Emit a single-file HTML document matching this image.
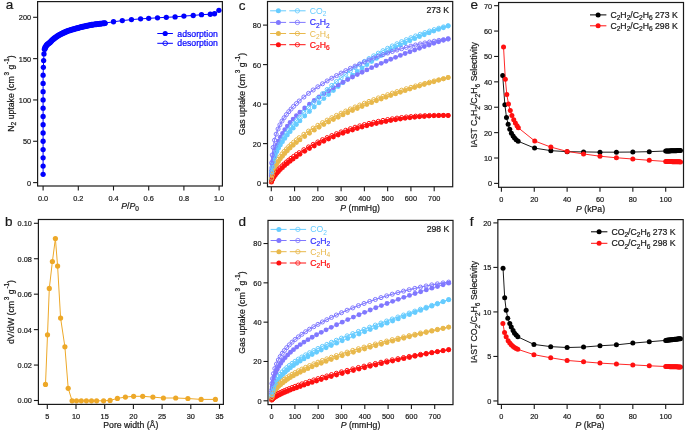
<!DOCTYPE html>
<html><head><meta charset="utf-8"><title>Figure</title>
<style>
html,body{margin:0;padding:0;background:#fff;width:685px;height:432px;overflow:hidden;}
svg{display:block;will-change:transform;font-family:"Liberation Sans", sans-serif;}
</style></head><body>
<svg width="685" height="432" viewBox="0 0 685 432" font-family='"Liberation Sans", sans-serif'>
<path d="M44.68 49.04 L45.39 47.16 L46.53 45.33 L47.68 44.13 L48.82 43.3 L49.96 42.43 L51.11 41.21 L52.25 40.03 L53.4 39.07 L54.54 38.17 L55.68 37.32 L56.83 36.53 L57.97 35.8 L59.12 35.1 L60.26 34.46 L61.4 33.85 L62.55 33.27 L63.69 32.72 L64.84 32.2 L65.98 31.72 L67.12 31.26 L68.27 30.84 L69.41 30.44 L70.56 30.07 L71.7 29.72 L72.84 29.39 L73.99 29.07 L75.13 28.76 L76.28 28.45 L77.42 28.13 L78.56 27.83 L79.71 27.52 L80.85 27.23 L82 26.94 L83.14 26.66 L84.28 26.39 L85.43 26.13 L86.57 25.88 L87.72 25.63 L88.86 25.39 L90 25.16 L91.15 24.95 L92.29 24.75 L93.44 24.58 L94.58 24.42 L95.72 24.27 L96.87 24.12 L98.01 23.99 L99.16 23.86 L100.3 23.72 L101.44 23.58 L102.59 23.44 L103.73 23.29 L104.88 23.12" fill="none" stroke="#0000ff" stroke-width="5.9" stroke-linecap="round" stroke-linejoin="round"/>
<path d="M43.1 174.33 L43.1 166.07 L43.1 157.81 L43.1 149.54 L43.1 141.27 L43.1 133.01 L43.1 124.74 L43.1 116.48 L43.1 108.21 L43.1 99.95 L43.1 91.68 L43.1 83.42 L43.1 75.15 L43.36 67.3 L43.63 60.53 L43.98 53.91 L44.68 49.04 L45.39 47.16 L46.53 45.33 L47.68 44.13 L48.82 43.3 L49.96 42.43 L51.11 41.21 L52.25 40.03 L53.4 39.07 L54.54 38.17 L55.68 37.32 L56.83 36.53 L57.97 35.8 L59.12 35.1 L60.26 34.46 L61.4 33.85 L62.55 33.27 L63.69 32.72 L64.84 32.2 L65.98 31.72 L67.12 31.26 L68.27 30.84 L69.41 30.44 L70.56 30.07 L71.7 29.72 L72.84 29.39 L73.99 29.07 L75.13 28.76 L76.28 28.45 L77.42 28.13 L78.56 27.83 L79.71 27.52 L80.85 27.23 L82 26.94 L83.14 26.66 L84.28 26.39 L85.43 26.13 L86.57 25.88 L87.72 25.63 L88.86 25.39 L90 25.16 L91.15 24.95 L92.29 24.75 L93.44 24.58 L94.58 24.42 L95.72 24.27 L96.87 24.12 L98.01 23.99 L99.16 23.86 L100.3 23.72 L101.44 23.58 L102.59 23.44 L103.73 23.29 L104.88 23.12 L113.5 21.76 L122.3 20.61 L131.45 19.61 L140.6 18.87 L148.7 18.37 L157.5 17.8 L166.3 17.3 L175.1 16.89 L183.9 16.06 L193.23 15.48 L201.5 14.66 L210.3 14.24 L214.52 13.75 L218.92 10.36" fill="none" stroke="#0000ff" stroke-width="1.0" stroke-linejoin="round"/>
<circle cx="43.1" cy="174.33" r="2.65" fill="#0000ff"/>
<circle cx="43.1" cy="166.07" r="2.65" fill="#0000ff"/>
<circle cx="43.1" cy="157.81" r="2.65" fill="#0000ff"/>
<circle cx="43.1" cy="149.54" r="2.65" fill="#0000ff"/>
<circle cx="43.1" cy="141.27" r="2.65" fill="#0000ff"/>
<circle cx="43.1" cy="133.01" r="2.65" fill="#0000ff"/>
<circle cx="43.1" cy="124.74" r="2.65" fill="#0000ff"/>
<circle cx="43.1" cy="116.48" r="2.65" fill="#0000ff"/>
<circle cx="43.1" cy="108.21" r="2.65" fill="#0000ff"/>
<circle cx="43.1" cy="99.95" r="2.65" fill="#0000ff"/>
<circle cx="43.1" cy="91.68" r="2.65" fill="#0000ff"/>
<circle cx="43.1" cy="83.42" r="2.65" fill="#0000ff"/>
<circle cx="43.1" cy="75.15" r="2.65" fill="#0000ff"/>
<circle cx="43.36" cy="67.3" r="2.65" fill="#0000ff"/>
<circle cx="43.63" cy="60.53" r="2.65" fill="#0000ff"/>
<circle cx="43.98" cy="53.91" r="2.65" fill="#0000ff"/>
<circle cx="44.68" cy="49.04" r="2.65" fill="#0000ff"/>
<circle cx="45.39" cy="47.16" r="2.65" fill="#0000ff"/>
<circle cx="46.53" cy="45.33" r="2.65" fill="#0000ff"/>
<circle cx="47.68" cy="44.13" r="2.65" fill="#0000ff"/>
<circle cx="48.82" cy="43.3" r="2.65" fill="#0000ff"/>
<circle cx="49.96" cy="42.43" r="2.65" fill="#0000ff"/>
<circle cx="51.11" cy="41.21" r="2.65" fill="#0000ff"/>
<circle cx="52.25" cy="40.03" r="2.65" fill="#0000ff"/>
<circle cx="53.4" cy="39.07" r="2.65" fill="#0000ff"/>
<circle cx="54.54" cy="38.17" r="2.65" fill="#0000ff"/>
<circle cx="55.68" cy="37.32" r="2.65" fill="#0000ff"/>
<circle cx="56.83" cy="36.53" r="2.65" fill="#0000ff"/>
<circle cx="57.97" cy="35.8" r="2.65" fill="#0000ff"/>
<circle cx="59.12" cy="35.1" r="2.65" fill="#0000ff"/>
<circle cx="60.26" cy="34.46" r="2.65" fill="#0000ff"/>
<circle cx="61.4" cy="33.85" r="2.65" fill="#0000ff"/>
<circle cx="62.55" cy="33.27" r="2.65" fill="#0000ff"/>
<circle cx="63.69" cy="32.72" r="2.65" fill="#0000ff"/>
<circle cx="64.84" cy="32.2" r="2.65" fill="#0000ff"/>
<circle cx="65.98" cy="31.72" r="2.65" fill="#0000ff"/>
<circle cx="67.12" cy="31.26" r="2.65" fill="#0000ff"/>
<circle cx="68.27" cy="30.84" r="2.65" fill="#0000ff"/>
<circle cx="69.41" cy="30.44" r="2.65" fill="#0000ff"/>
<circle cx="70.56" cy="30.07" r="2.65" fill="#0000ff"/>
<circle cx="71.7" cy="29.72" r="2.65" fill="#0000ff"/>
<circle cx="72.84" cy="29.39" r="2.65" fill="#0000ff"/>
<circle cx="73.99" cy="29.07" r="2.65" fill="#0000ff"/>
<circle cx="75.13" cy="28.76" r="2.65" fill="#0000ff"/>
<circle cx="76.28" cy="28.45" r="2.65" fill="#0000ff"/>
<circle cx="77.42" cy="28.13" r="2.65" fill="#0000ff"/>
<circle cx="78.56" cy="27.83" r="2.65" fill="#0000ff"/>
<circle cx="79.71" cy="27.52" r="2.65" fill="#0000ff"/>
<circle cx="80.85" cy="27.23" r="2.65" fill="#0000ff"/>
<circle cx="82" cy="26.94" r="2.65" fill="#0000ff"/>
<circle cx="83.14" cy="26.66" r="2.65" fill="#0000ff"/>
<circle cx="84.28" cy="26.39" r="2.65" fill="#0000ff"/>
<circle cx="85.43" cy="26.13" r="2.65" fill="#0000ff"/>
<circle cx="86.57" cy="25.88" r="2.65" fill="#0000ff"/>
<circle cx="87.72" cy="25.63" r="2.65" fill="#0000ff"/>
<circle cx="88.86" cy="25.39" r="2.65" fill="#0000ff"/>
<circle cx="90" cy="25.16" r="2.65" fill="#0000ff"/>
<circle cx="91.15" cy="24.95" r="2.65" fill="#0000ff"/>
<circle cx="92.29" cy="24.75" r="2.65" fill="#0000ff"/>
<circle cx="93.44" cy="24.58" r="2.65" fill="#0000ff"/>
<circle cx="94.58" cy="24.42" r="2.65" fill="#0000ff"/>
<circle cx="95.72" cy="24.27" r="2.65" fill="#0000ff"/>
<circle cx="96.87" cy="24.12" r="2.65" fill="#0000ff"/>
<circle cx="98.01" cy="23.99" r="2.65" fill="#0000ff"/>
<circle cx="99.16" cy="23.86" r="2.65" fill="#0000ff"/>
<circle cx="100.3" cy="23.72" r="2.65" fill="#0000ff"/>
<circle cx="101.44" cy="23.58" r="2.65" fill="#0000ff"/>
<circle cx="102.59" cy="23.44" r="2.65" fill="#0000ff"/>
<circle cx="103.73" cy="23.29" r="2.65" fill="#0000ff"/>
<circle cx="104.88" cy="23.12" r="2.65" fill="#0000ff"/>
<circle cx="113.5" cy="21.76" r="2.65" fill="#0000ff"/>
<circle cx="122.3" cy="20.61" r="2.65" fill="#0000ff"/>
<circle cx="131.45" cy="19.61" r="2.65" fill="#0000ff"/>
<circle cx="140.6" cy="18.87" r="2.65" fill="#0000ff"/>
<circle cx="148.7" cy="18.37" r="2.65" fill="#0000ff"/>
<circle cx="157.5" cy="17.8" r="2.65" fill="#0000ff"/>
<circle cx="166.3" cy="17.3" r="2.65" fill="#0000ff"/>
<circle cx="175.1" cy="16.89" r="2.65" fill="#0000ff"/>
<circle cx="183.9" cy="16.06" r="2.65" fill="#0000ff"/>
<circle cx="193.23" cy="15.48" r="2.65" fill="#0000ff"/>
<circle cx="201.5" cy="14.66" r="2.65" fill="#0000ff"/>
<circle cx="210.3" cy="14.24" r="2.65" fill="#0000ff"/>
<circle cx="214.52" cy="13.75" r="2.65" fill="#0000ff"/>
<circle cx="218.92" cy="10.36" r="2.65" fill="#0000ff"/>
<rect x="37.6" y="1.6" width="184.8" height="184.4" fill="none" stroke="#1a1a1a" stroke-width="1.2"/>
<line x1="33.1" y1="182.6" x2="37.6" y2="182.6" stroke="#1a1a1a" stroke-width="1.1"/>
<text transform="translate(31.1 185.5) scale(0.92 1)" text-anchor="end" font-size="8.0" fill="#1a1a1a" stroke="#1a1a1a" stroke-width="0.22">0</text>
<line x1="33.1" y1="141.27" x2="37.6" y2="141.27" stroke="#1a1a1a" stroke-width="1.1"/>
<text transform="translate(31.1 144.17) scale(0.92 1)" text-anchor="end" font-size="8.0" fill="#1a1a1a" stroke="#1a1a1a" stroke-width="0.22">50</text>
<line x1="33.1" y1="99.95" x2="37.6" y2="99.95" stroke="#1a1a1a" stroke-width="1.1"/>
<text transform="translate(31.1 102.85) scale(0.92 1)" text-anchor="end" font-size="8.0" fill="#1a1a1a" stroke="#1a1a1a" stroke-width="0.22">100</text>
<line x1="33.1" y1="58.62" x2="37.6" y2="58.62" stroke="#1a1a1a" stroke-width="1.1"/>
<text transform="translate(31.1 61.52) scale(0.92 1)" text-anchor="end" font-size="8.0" fill="#1a1a1a" stroke="#1a1a1a" stroke-width="0.22">150</text>
<line x1="33.1" y1="17.3" x2="37.6" y2="17.3" stroke="#1a1a1a" stroke-width="1.1"/>
<text transform="translate(31.1 20.2) scale(0.92 1)" text-anchor="end" font-size="8.0" fill="#1a1a1a" stroke="#1a1a1a" stroke-width="0.22">200</text>
<line x1="43.1" y1="186" x2="43.1" y2="190.5" stroke="#1a1a1a" stroke-width="1.1"/>
<text transform="translate(43.1 200.6) scale(0.92 1)" text-anchor="middle" font-size="8.0" fill="#1a1a1a" stroke="#1a1a1a" stroke-width="0.22">0.0</text>
<line x1="78.3" y1="186" x2="78.3" y2="190.5" stroke="#1a1a1a" stroke-width="1.1"/>
<text transform="translate(78.3 200.6) scale(0.92 1)" text-anchor="middle" font-size="8.0" fill="#1a1a1a" stroke="#1a1a1a" stroke-width="0.22">0.2</text>
<line x1="113.5" y1="186" x2="113.5" y2="190.5" stroke="#1a1a1a" stroke-width="1.1"/>
<text transform="translate(113.5 200.6) scale(0.92 1)" text-anchor="middle" font-size="8.0" fill="#1a1a1a" stroke="#1a1a1a" stroke-width="0.22">0.4</text>
<line x1="148.7" y1="186" x2="148.7" y2="190.5" stroke="#1a1a1a" stroke-width="1.1"/>
<text transform="translate(148.7 200.6) scale(0.92 1)" text-anchor="middle" font-size="8.0" fill="#1a1a1a" stroke="#1a1a1a" stroke-width="0.22">0.6</text>
<line x1="183.9" y1="186" x2="183.9" y2="190.5" stroke="#1a1a1a" stroke-width="1.1"/>
<text transform="translate(183.9 200.6) scale(0.92 1)" text-anchor="middle" font-size="8.0" fill="#1a1a1a" stroke="#1a1a1a" stroke-width="0.22">0.8</text>
<line x1="219.1" y1="186" x2="219.1" y2="190.5" stroke="#1a1a1a" stroke-width="1.1"/>
<text transform="translate(219.1 200.6) scale(0.92 1)" text-anchor="middle" font-size="8.0" fill="#1a1a1a" stroke="#1a1a1a" stroke-width="0.22">1.0</text>
<line x1="157.3" y1="33.5" x2="172.9" y2="33.5" stroke="#0000ff" stroke-width="1"/>
<circle cx="165.2" cy="33.5" r="2.6" fill="#0000ff"/>
<line x1="157.3" y1="43.3" x2="172.9" y2="43.3" stroke="#0000ff" stroke-width="1"/>
<circle cx="165.2" cy="43.3" r="2.3" fill="none" stroke="#0000ff" stroke-width="0.9"/>
<text x="177.3" y="36.5" font-size="8.7" fill="#0000ff" stroke="#0000ff" stroke-width="0.22">adsorption</text>
<text x="177.3" y="46.3" font-size="8.7" fill="#0000ff" stroke="#0000ff" stroke-width="0.22">desorption</text>
<text x="130" y="209" text-anchor="middle" font-size="8.7" fill="#1a1a1a" stroke="#1a1a1a" stroke-width="0.22"><tspan font-style="italic">P</tspan>/<tspan font-style="italic">P</tspan><tspan font-size="6.5" dy="2">0</tspan></text>
<text transform="translate(13.9 93.5) rotate(-90)" text-anchor="middle" font-size="8.7" fill="#1a1a1a" stroke="#1a1a1a" stroke-width="0.22">N<tspan font-size="6.6" dy="2.2">2</tspan><tspan dy="-2.2"> uptake (cm</tspan><tspan dx="0.8" font-size="6.4" dy="-5.2">3</tspan><tspan dy="5.2"> g</tspan><tspan dx="0.8" font-size="6.4" dy="-5.2">-1</tspan><tspan dy="5.2">)</tspan></text>
<text x="5.8" y="9.4" font-size="13.5" fill="#1a1a1a" stroke="#1a1a1a" stroke-width="0.22">a</text>
<path d="M45.5 384.4 L47.5 334.8 L49.3 288.4 L52.4 261.5 L55.4 238.5 L57.6 266.1 L60.6 318.1 L64.9 346.8 L68.2 388.3 L72.1 400.8 L76.5 400.8 L81.3 400.8 L86.4 400.8 L91.5 400.8 L96.6 400.8 L103.6 400.8 L110.1 400.4 L117.4 398.4 L125.4 397.1 L133.6 396.3 L142.7 396.3 L152.9 397.1 L163.4 398 L175.7 398 L187.9 398.5 L201.1 399.4 L215.4 399.4" fill="none" stroke="#eda828" stroke-width="1.0" stroke-linejoin="round"/>
<circle cx="45.5" cy="384.4" r="2.6" fill="#eda828"/>
<circle cx="47.5" cy="334.8" r="2.6" fill="#eda828"/>
<circle cx="49.3" cy="288.4" r="2.6" fill="#eda828"/>
<circle cx="52.4" cy="261.5" r="2.6" fill="#eda828"/>
<circle cx="55.4" cy="238.5" r="2.6" fill="#eda828"/>
<circle cx="57.6" cy="266.1" r="2.6" fill="#eda828"/>
<circle cx="60.6" cy="318.1" r="2.6" fill="#eda828"/>
<circle cx="64.9" cy="346.8" r="2.6" fill="#eda828"/>
<circle cx="68.2" cy="388.3" r="2.6" fill="#eda828"/>
<circle cx="72.1" cy="400.8" r="2.6" fill="#eda828"/>
<circle cx="76.5" cy="400.8" r="2.6" fill="#eda828"/>
<circle cx="81.3" cy="400.8" r="2.6" fill="#eda828"/>
<circle cx="86.4" cy="400.8" r="2.6" fill="#eda828"/>
<circle cx="91.5" cy="400.8" r="2.6" fill="#eda828"/>
<circle cx="96.6" cy="400.8" r="2.6" fill="#eda828"/>
<circle cx="103.6" cy="400.8" r="2.6" fill="#eda828"/>
<circle cx="110.1" cy="400.4" r="2.6" fill="#eda828"/>
<circle cx="117.4" cy="398.4" r="2.6" fill="#eda828"/>
<circle cx="125.4" cy="397.1" r="2.6" fill="#eda828"/>
<circle cx="133.6" cy="396.3" r="2.6" fill="#eda828"/>
<circle cx="142.7" cy="396.3" r="2.6" fill="#eda828"/>
<circle cx="152.9" cy="397.1" r="2.6" fill="#eda828"/>
<circle cx="163.4" cy="398" r="2.6" fill="#eda828"/>
<circle cx="175.7" cy="398" r="2.6" fill="#eda828"/>
<circle cx="187.9" cy="398.5" r="2.6" fill="#eda828"/>
<circle cx="201.1" cy="399.4" r="2.6" fill="#eda828"/>
<circle cx="215.4" cy="399.4" r="2.6" fill="#eda828"/>
<rect x="38.4" y="219.5" width="185" height="184.9" fill="none" stroke="#1a1a1a" stroke-width="1.2"/>
<line x1="33.9" y1="400.5" x2="38.4" y2="400.5" stroke="#1a1a1a" stroke-width="1.1"/>
<text transform="translate(31.9 403.4) scale(0.92 1)" text-anchor="end" font-size="8.0" fill="#1a1a1a" stroke="#1a1a1a" stroke-width="0.22">0.00</text>
<line x1="33.9" y1="365.06" x2="38.4" y2="365.06" stroke="#1a1a1a" stroke-width="1.1"/>
<text transform="translate(31.9 367.96) scale(0.92 1)" text-anchor="end" font-size="8.0" fill="#1a1a1a" stroke="#1a1a1a" stroke-width="0.22">0.02</text>
<line x1="33.9" y1="329.62" x2="38.4" y2="329.62" stroke="#1a1a1a" stroke-width="1.1"/>
<text transform="translate(31.9 332.52) scale(0.92 1)" text-anchor="end" font-size="8.0" fill="#1a1a1a" stroke="#1a1a1a" stroke-width="0.22">0.04</text>
<line x1="33.9" y1="294.18" x2="38.4" y2="294.18" stroke="#1a1a1a" stroke-width="1.1"/>
<text transform="translate(31.9 297.08) scale(0.92 1)" text-anchor="end" font-size="8.0" fill="#1a1a1a" stroke="#1a1a1a" stroke-width="0.22">0.06</text>
<line x1="33.9" y1="258.74" x2="38.4" y2="258.74" stroke="#1a1a1a" stroke-width="1.1"/>
<text transform="translate(31.9 261.64) scale(0.92 1)" text-anchor="end" font-size="8.0" fill="#1a1a1a" stroke="#1a1a1a" stroke-width="0.22">0.08</text>
<line x1="33.9" y1="223.3" x2="38.4" y2="223.3" stroke="#1a1a1a" stroke-width="1.1"/>
<text transform="translate(31.9 226.2) scale(0.92 1)" text-anchor="end" font-size="8.0" fill="#1a1a1a" stroke="#1a1a1a" stroke-width="0.22">0.10</text>
<line x1="47.3" y1="404.4" x2="47.3" y2="408.9" stroke="#1a1a1a" stroke-width="1.1"/>
<text transform="translate(47.3 418.6) scale(0.92 1)" text-anchor="middle" font-size="8.0" fill="#1a1a1a" stroke="#1a1a1a" stroke-width="0.22">5</text>
<line x1="76" y1="404.4" x2="76" y2="408.9" stroke="#1a1a1a" stroke-width="1.1"/>
<text transform="translate(76 418.6) scale(0.92 1)" text-anchor="middle" font-size="8.0" fill="#1a1a1a" stroke="#1a1a1a" stroke-width="0.22">10</text>
<line x1="104.7" y1="404.4" x2="104.7" y2="408.9" stroke="#1a1a1a" stroke-width="1.1"/>
<text transform="translate(104.7 418.6) scale(0.92 1)" text-anchor="middle" font-size="8.0" fill="#1a1a1a" stroke="#1a1a1a" stroke-width="0.22">15</text>
<line x1="133.4" y1="404.4" x2="133.4" y2="408.9" stroke="#1a1a1a" stroke-width="1.1"/>
<text transform="translate(133.4 418.6) scale(0.92 1)" text-anchor="middle" font-size="8.0" fill="#1a1a1a" stroke="#1a1a1a" stroke-width="0.22">20</text>
<line x1="162.1" y1="404.4" x2="162.1" y2="408.9" stroke="#1a1a1a" stroke-width="1.1"/>
<text transform="translate(162.1 418.6) scale(0.92 1)" text-anchor="middle" font-size="8.0" fill="#1a1a1a" stroke="#1a1a1a" stroke-width="0.22">25</text>
<line x1="190.8" y1="404.4" x2="190.8" y2="408.9" stroke="#1a1a1a" stroke-width="1.1"/>
<text transform="translate(190.8 418.6) scale(0.92 1)" text-anchor="middle" font-size="8.0" fill="#1a1a1a" stroke="#1a1a1a" stroke-width="0.22">30</text>
<line x1="219.5" y1="404.4" x2="219.5" y2="408.9" stroke="#1a1a1a" stroke-width="1.1"/>
<text transform="translate(219.5 418.6) scale(0.92 1)" text-anchor="middle" font-size="8.0" fill="#1a1a1a" stroke="#1a1a1a" stroke-width="0.22">35</text>
<text x="130.8" y="428.2" text-anchor="middle" font-size="8.7" fill="#1a1a1a" stroke="#1a1a1a" stroke-width="0.22">Pore width (Å)</text>
<text transform="translate(13.9 312) rotate(-90)" text-anchor="middle" font-size="8.7" fill="#1a1a1a" stroke="#1a1a1a" stroke-width="0.22">dV/dW (cm<tspan dx="0.8" font-size="6.4" dy="-5.2">3</tspan><tspan dy="5.2"> g</tspan><tspan dx="0.8" font-size="6.4" dy="-5.2">-1</tspan><tspan dy="5.2">)</tspan></text>
<text x="4.9" y="226.1" font-size="13.5" fill="#1a1a1a" stroke="#1a1a1a" stroke-width="0.22">b</text>
<path d="M271.37 182.14 L271.49 181.63 L271.65 181.12 L271.88 180.52 L272.23 179.77 L272.7 178.91 L273.39 177.77 L274.33 176.43 L275.49 174.93 L276.88 173.28 L278.51 171.5 L280.38 169.62 L282.47 167.64 L284.8 165.57 L287.36 163.43 L290.15 161.23 L293.17 158.98 L296.43 156.68 L299.92 154.35 L304.7 151.36 L309.49 148.57 L314.27 145.95 L319.05 143.5 L323.83 141.19 L328.61 139.03 L333.39 136.99 L338.17 135.07 L342.96 133.26 L347.74 131.57 L352.52 129.98 L357.3 128.49 L362.08 127.09 L366.86 125.79 L371.65 124.57 L376.43 123.45 L381.21 122.4 L385.99 121.44 L390.77 120.56 L395.55 119.75 L400.34 119.02 L405.12 118.36 L409.9 117.77 L414.68 117.26 L419.46 116.81 L424.24 116.43 L429.03 116.11 L433.81 115.86 L438.59 115.67 L443.37 115.55 L448.15 115.49" fill="none" stroke="#ff1010" stroke-width="0.9" stroke-linejoin="round"/>
<circle cx="271.37" cy="182.14" r="2.45" fill="#ff1010"/>
<circle cx="271.49" cy="181.63" r="2.45" fill="#ff1010"/>
<circle cx="271.65" cy="181.12" r="2.45" fill="#ff1010"/>
<circle cx="271.88" cy="180.52" r="2.45" fill="#ff1010"/>
<circle cx="272.23" cy="179.77" r="2.45" fill="#ff1010"/>
<circle cx="272.7" cy="178.91" r="2.45" fill="#ff1010"/>
<circle cx="273.39" cy="177.77" r="2.45" fill="#ff1010"/>
<circle cx="274.33" cy="176.43" r="2.45" fill="#ff1010"/>
<circle cx="275.49" cy="174.93" r="2.45" fill="#ff1010"/>
<circle cx="276.88" cy="173.28" r="2.45" fill="#ff1010"/>
<circle cx="278.51" cy="171.5" r="2.45" fill="#ff1010"/>
<circle cx="280.38" cy="169.62" r="2.45" fill="#ff1010"/>
<circle cx="282.47" cy="167.64" r="2.45" fill="#ff1010"/>
<circle cx="284.8" cy="165.57" r="2.45" fill="#ff1010"/>
<circle cx="287.36" cy="163.43" r="2.45" fill="#ff1010"/>
<circle cx="290.15" cy="161.23" r="2.45" fill="#ff1010"/>
<circle cx="293.17" cy="158.98" r="2.45" fill="#ff1010"/>
<circle cx="296.43" cy="156.68" r="2.45" fill="#ff1010"/>
<circle cx="299.92" cy="154.35" r="2.45" fill="#ff1010"/>
<circle cx="304.7" cy="151.36" r="2.45" fill="#ff1010"/>
<circle cx="309.49" cy="148.57" r="2.45" fill="#ff1010"/>
<circle cx="314.27" cy="145.95" r="2.45" fill="#ff1010"/>
<circle cx="319.05" cy="143.5" r="2.45" fill="#ff1010"/>
<circle cx="323.83" cy="141.19" r="2.45" fill="#ff1010"/>
<circle cx="328.61" cy="139.03" r="2.45" fill="#ff1010"/>
<circle cx="333.39" cy="136.99" r="2.45" fill="#ff1010"/>
<circle cx="338.17" cy="135.07" r="2.45" fill="#ff1010"/>
<circle cx="342.96" cy="133.26" r="2.45" fill="#ff1010"/>
<circle cx="347.74" cy="131.57" r="2.45" fill="#ff1010"/>
<circle cx="352.52" cy="129.98" r="2.45" fill="#ff1010"/>
<circle cx="357.3" cy="128.49" r="2.45" fill="#ff1010"/>
<circle cx="362.08" cy="127.09" r="2.45" fill="#ff1010"/>
<circle cx="366.86" cy="125.79" r="2.45" fill="#ff1010"/>
<circle cx="371.65" cy="124.57" r="2.45" fill="#ff1010"/>
<circle cx="376.43" cy="123.45" r="2.45" fill="#ff1010"/>
<circle cx="381.21" cy="122.4" r="2.45" fill="#ff1010"/>
<circle cx="385.99" cy="121.44" r="2.45" fill="#ff1010"/>
<circle cx="390.77" cy="120.56" r="2.45" fill="#ff1010"/>
<circle cx="395.55" cy="119.75" r="2.45" fill="#ff1010"/>
<circle cx="400.34" cy="119.02" r="2.45" fill="#ff1010"/>
<circle cx="405.12" cy="118.36" r="2.45" fill="#ff1010"/>
<circle cx="409.9" cy="117.77" r="2.45" fill="#ff1010"/>
<circle cx="414.68" cy="117.26" r="2.45" fill="#ff1010"/>
<circle cx="419.46" cy="116.81" r="2.45" fill="#ff1010"/>
<circle cx="424.24" cy="116.43" r="2.45" fill="#ff1010"/>
<circle cx="429.03" cy="116.11" r="2.45" fill="#ff1010"/>
<circle cx="433.81" cy="115.86" r="2.45" fill="#ff1010"/>
<circle cx="438.59" cy="115.67" r="2.45" fill="#ff1010"/>
<circle cx="443.37" cy="115.55" r="2.45" fill="#ff1010"/>
<circle cx="448.15" cy="115.49" r="2.45" fill="#ff1010"/>
<path d="M271.37 181.1 L271.49 179.76 L271.65 178.47 L271.88 177.08 L272.23 175.45 L272.7 173.7 L273.39 171.55 L274.33 169.18 L275.49 166.69 L276.88 164.12 L278.51 161.51 L280.38 158.85 L282.47 156.18 L284.8 153.49 L287.36 150.78 L290.15 148.07 L293.17 145.35 L296.43 142.62 L299.92 139.9 L304.7 136.43 L309.49 133.2 L314.27 130.17 L319.05 127.32 L323.83 124.61 L328.61 122.03 L333.39 119.55 L338.17 117.18 L342.96 114.9 L347.74 112.69 L352.52 110.56 L357.3 108.5 L362.08 106.5 L366.86 104.55 L371.65 102.66 L376.43 100.82 L381.21 99.02 L385.99 97.27 L390.77 95.56 L395.55 93.89 L400.34 92.25 L405.12 90.65 L409.9 89.08 L414.68 87.54 L419.46 86.04 L424.24 84.56 L429.03 83.11 L433.81 81.68 L438.59 80.29 L443.37 78.91 L448.15 77.56" fill="none" stroke="#e8b84b" stroke-width="0.9" stroke-linejoin="round"/>
<circle cx="271.37" cy="181.1" r="2.45" fill="#e8b84b"/>
<circle cx="271.49" cy="179.76" r="2.45" fill="#e8b84b"/>
<circle cx="271.65" cy="178.47" r="2.45" fill="#e8b84b"/>
<circle cx="271.88" cy="177.08" r="2.45" fill="#e8b84b"/>
<circle cx="272.23" cy="175.45" r="2.45" fill="#e8b84b"/>
<circle cx="272.7" cy="173.7" r="2.45" fill="#e8b84b"/>
<circle cx="273.39" cy="171.55" r="2.45" fill="#e8b84b"/>
<circle cx="274.33" cy="169.18" r="2.45" fill="#e8b84b"/>
<circle cx="275.49" cy="166.69" r="2.45" fill="#e8b84b"/>
<circle cx="276.88" cy="164.12" r="2.45" fill="#e8b84b"/>
<circle cx="278.51" cy="161.51" r="2.45" fill="#e8b84b"/>
<circle cx="280.38" cy="158.85" r="2.45" fill="#e8b84b"/>
<circle cx="282.47" cy="156.18" r="2.45" fill="#e8b84b"/>
<circle cx="284.8" cy="153.49" r="2.45" fill="#e8b84b"/>
<circle cx="287.36" cy="150.78" r="2.45" fill="#e8b84b"/>
<circle cx="290.15" cy="148.07" r="2.45" fill="#e8b84b"/>
<circle cx="293.17" cy="145.35" r="2.45" fill="#e8b84b"/>
<circle cx="296.43" cy="142.62" r="2.45" fill="#e8b84b"/>
<circle cx="299.92" cy="139.9" r="2.45" fill="#e8b84b"/>
<circle cx="304.7" cy="136.43" r="2.45" fill="#e8b84b"/>
<circle cx="309.49" cy="133.2" r="2.45" fill="#e8b84b"/>
<circle cx="314.27" cy="130.17" r="2.45" fill="#e8b84b"/>
<circle cx="319.05" cy="127.32" r="2.45" fill="#e8b84b"/>
<circle cx="323.83" cy="124.61" r="2.45" fill="#e8b84b"/>
<circle cx="328.61" cy="122.03" r="2.45" fill="#e8b84b"/>
<circle cx="333.39" cy="119.55" r="2.45" fill="#e8b84b"/>
<circle cx="338.17" cy="117.18" r="2.45" fill="#e8b84b"/>
<circle cx="342.96" cy="114.9" r="2.45" fill="#e8b84b"/>
<circle cx="347.74" cy="112.69" r="2.45" fill="#e8b84b"/>
<circle cx="352.52" cy="110.56" r="2.45" fill="#e8b84b"/>
<circle cx="357.3" cy="108.5" r="2.45" fill="#e8b84b"/>
<circle cx="362.08" cy="106.5" r="2.45" fill="#e8b84b"/>
<circle cx="366.86" cy="104.55" r="2.45" fill="#e8b84b"/>
<circle cx="371.65" cy="102.66" r="2.45" fill="#e8b84b"/>
<circle cx="376.43" cy="100.82" r="2.45" fill="#e8b84b"/>
<circle cx="381.21" cy="99.02" r="2.45" fill="#e8b84b"/>
<circle cx="385.99" cy="97.27" r="2.45" fill="#e8b84b"/>
<circle cx="390.77" cy="95.56" r="2.45" fill="#e8b84b"/>
<circle cx="395.55" cy="93.89" r="2.45" fill="#e8b84b"/>
<circle cx="400.34" cy="92.25" r="2.45" fill="#e8b84b"/>
<circle cx="405.12" cy="90.65" r="2.45" fill="#e8b84b"/>
<circle cx="409.9" cy="89.08" r="2.45" fill="#e8b84b"/>
<circle cx="414.68" cy="87.54" r="2.45" fill="#e8b84b"/>
<circle cx="419.46" cy="86.04" r="2.45" fill="#e8b84b"/>
<circle cx="424.24" cy="84.56" r="2.45" fill="#e8b84b"/>
<circle cx="429.03" cy="83.11" r="2.45" fill="#e8b84b"/>
<circle cx="433.81" cy="81.68" r="2.45" fill="#e8b84b"/>
<circle cx="438.59" cy="80.29" r="2.45" fill="#e8b84b"/>
<circle cx="443.37" cy="78.91" r="2.45" fill="#e8b84b"/>
<circle cx="448.15" cy="77.56" r="2.45" fill="#e8b84b"/>
<path d="M271.37 179.23 L271.49 176.44 L271.65 173.9 L271.88 171.28 L272.23 168.36 L272.7 165.39 L273.39 161.96 L274.33 158.43 L275.49 154.94 L276.88 151.54 L278.51 148.22 L280.38 144.96 L282.47 141.71 L284.8 138.42 L287.36 135.06 L290.15 131.64 L293.17 128.13 L296.43 124.55 L299.92 120.88 L304.7 116.09 L309.49 111.5 L314.27 107.07 L319.05 102.77 L323.83 98.59 L328.61 94.49 L333.39 90.48 L338.17 86.52 L342.96 82.63 L347.74 78.82 L352.52 75.11 L357.3 71.51 L362.08 68.02 L366.86 64.67 L371.65 61.46 L376.43 58.39 L381.21 55.47 L385.99 52.7 L390.77 50.07 L395.55 47.58 L400.34 45.2 L405.12 42.92 L409.9 40.75 L414.68 38.67 L419.46 36.67 L424.24 34.75 L429.03 32.89 L433.81 31.11 L438.59 29.38 L443.37 27.7 L448.15 26.07" fill="none" stroke="#66ccff" stroke-width="0.9" stroke-linejoin="round"/>
<circle cx="271.37" cy="179.23" r="2.45" fill="#66ccff"/>
<circle cx="271.49" cy="176.44" r="2.45" fill="#66ccff"/>
<circle cx="271.65" cy="173.9" r="2.45" fill="#66ccff"/>
<circle cx="271.88" cy="171.28" r="2.45" fill="#66ccff"/>
<circle cx="272.23" cy="168.36" r="2.45" fill="#66ccff"/>
<circle cx="272.7" cy="165.39" r="2.45" fill="#66ccff"/>
<circle cx="273.39" cy="161.96" r="2.45" fill="#66ccff"/>
<circle cx="274.33" cy="158.43" r="2.45" fill="#66ccff"/>
<circle cx="275.49" cy="154.94" r="2.45" fill="#66ccff"/>
<circle cx="276.88" cy="151.54" r="2.45" fill="#66ccff"/>
<circle cx="278.51" cy="148.22" r="2.45" fill="#66ccff"/>
<circle cx="280.38" cy="144.96" r="2.45" fill="#66ccff"/>
<circle cx="282.47" cy="141.71" r="2.45" fill="#66ccff"/>
<circle cx="284.8" cy="138.42" r="2.45" fill="#66ccff"/>
<circle cx="287.36" cy="135.06" r="2.45" fill="#66ccff"/>
<circle cx="290.15" cy="131.64" r="2.45" fill="#66ccff"/>
<circle cx="293.17" cy="128.13" r="2.45" fill="#66ccff"/>
<circle cx="296.43" cy="124.55" r="2.45" fill="#66ccff"/>
<circle cx="299.92" cy="120.88" r="2.45" fill="#66ccff"/>
<circle cx="304.7" cy="116.09" r="2.45" fill="#66ccff"/>
<circle cx="309.49" cy="111.5" r="2.45" fill="#66ccff"/>
<circle cx="314.27" cy="107.07" r="2.45" fill="#66ccff"/>
<circle cx="319.05" cy="102.77" r="2.45" fill="#66ccff"/>
<circle cx="323.83" cy="98.59" r="2.45" fill="#66ccff"/>
<circle cx="328.61" cy="94.49" r="2.45" fill="#66ccff"/>
<circle cx="333.39" cy="90.48" r="2.45" fill="#66ccff"/>
<circle cx="338.17" cy="86.52" r="2.45" fill="#66ccff"/>
<circle cx="342.96" cy="82.63" r="2.45" fill="#66ccff"/>
<circle cx="347.74" cy="78.82" r="2.45" fill="#66ccff"/>
<circle cx="352.52" cy="75.11" r="2.45" fill="#66ccff"/>
<circle cx="357.3" cy="71.51" r="2.45" fill="#66ccff"/>
<circle cx="362.08" cy="68.02" r="2.45" fill="#66ccff"/>
<circle cx="366.86" cy="64.67" r="2.45" fill="#66ccff"/>
<circle cx="371.65" cy="61.46" r="2.45" fill="#66ccff"/>
<circle cx="376.43" cy="58.39" r="2.45" fill="#66ccff"/>
<circle cx="381.21" cy="55.47" r="2.45" fill="#66ccff"/>
<circle cx="385.99" cy="52.7" r="2.45" fill="#66ccff"/>
<circle cx="390.77" cy="50.07" r="2.45" fill="#66ccff"/>
<circle cx="395.55" cy="47.58" r="2.45" fill="#66ccff"/>
<circle cx="400.34" cy="45.2" r="2.45" fill="#66ccff"/>
<circle cx="405.12" cy="42.92" r="2.45" fill="#66ccff"/>
<circle cx="409.9" cy="40.75" r="2.45" fill="#66ccff"/>
<circle cx="414.68" cy="38.67" r="2.45" fill="#66ccff"/>
<circle cx="419.46" cy="36.67" r="2.45" fill="#66ccff"/>
<circle cx="424.24" cy="34.75" r="2.45" fill="#66ccff"/>
<circle cx="429.03" cy="32.89" r="2.45" fill="#66ccff"/>
<circle cx="433.81" cy="31.11" r="2.45" fill="#66ccff"/>
<circle cx="438.59" cy="29.38" r="2.45" fill="#66ccff"/>
<circle cx="443.37" cy="27.7" r="2.45" fill="#66ccff"/>
<circle cx="448.15" cy="26.07" r="2.45" fill="#66ccff"/>
<path d="M271.37 175.72 L271.49 172.95 L271.65 170.37 L271.88 167.65 L272.23 164.54 L272.7 161.3 L273.39 157.45 L274.33 153.37 L275.49 149.25 L276.88 145.16 L278.51 141.15 L280.38 137.24 L282.47 133.43 L284.8 129.72 L287.36 126.1 L290.15 122.56 L293.17 119.09 L296.43 115.67 L299.92 112.3 L304.7 108.05 L309.49 104.13 L314.27 100.48 L319.05 97.05 L323.83 93.8 L328.61 90.72 L333.39 87.77 L338.17 84.95 L342.96 82.23 L347.74 79.61 L352.52 77.07 L357.3 74.61 L362.08 72.23 L366.86 69.91 L371.65 67.67 L376.43 65.48 L381.21 63.36 L385.99 61.29 L390.77 59.28 L395.55 57.33 L400.34 55.42 L405.12 53.56 L409.9 51.75 L414.68 49.99 L419.46 48.27 L424.24 46.59 L429.03 44.96 L433.81 43.36 L438.59 41.81 L443.37 40.29 L448.15 38.82" fill="none" stroke="#8078ff" stroke-width="0.9" stroke-linejoin="round"/>
<circle cx="271.37" cy="175.72" r="2.45" fill="#8078ff"/>
<circle cx="271.49" cy="172.95" r="2.45" fill="#8078ff"/>
<circle cx="271.65" cy="170.37" r="2.45" fill="#8078ff"/>
<circle cx="271.88" cy="167.65" r="2.45" fill="#8078ff"/>
<circle cx="272.23" cy="164.54" r="2.45" fill="#8078ff"/>
<circle cx="272.7" cy="161.3" r="2.45" fill="#8078ff"/>
<circle cx="273.39" cy="157.45" r="2.45" fill="#8078ff"/>
<circle cx="274.33" cy="153.37" r="2.45" fill="#8078ff"/>
<circle cx="275.49" cy="149.25" r="2.45" fill="#8078ff"/>
<circle cx="276.88" cy="145.16" r="2.45" fill="#8078ff"/>
<circle cx="278.51" cy="141.15" r="2.45" fill="#8078ff"/>
<circle cx="280.38" cy="137.24" r="2.45" fill="#8078ff"/>
<circle cx="282.47" cy="133.43" r="2.45" fill="#8078ff"/>
<circle cx="284.8" cy="129.72" r="2.45" fill="#8078ff"/>
<circle cx="287.36" cy="126.1" r="2.45" fill="#8078ff"/>
<circle cx="290.15" cy="122.56" r="2.45" fill="#8078ff"/>
<circle cx="293.17" cy="119.09" r="2.45" fill="#8078ff"/>
<circle cx="296.43" cy="115.67" r="2.45" fill="#8078ff"/>
<circle cx="299.92" cy="112.3" r="2.45" fill="#8078ff"/>
<circle cx="304.7" cy="108.05" r="2.45" fill="#8078ff"/>
<circle cx="309.49" cy="104.13" r="2.45" fill="#8078ff"/>
<circle cx="314.27" cy="100.48" r="2.45" fill="#8078ff"/>
<circle cx="319.05" cy="97.05" r="2.45" fill="#8078ff"/>
<circle cx="323.83" cy="93.8" r="2.45" fill="#8078ff"/>
<circle cx="328.61" cy="90.72" r="2.45" fill="#8078ff"/>
<circle cx="333.39" cy="87.77" r="2.45" fill="#8078ff"/>
<circle cx="338.17" cy="84.95" r="2.45" fill="#8078ff"/>
<circle cx="342.96" cy="82.23" r="2.45" fill="#8078ff"/>
<circle cx="347.74" cy="79.61" r="2.45" fill="#8078ff"/>
<circle cx="352.52" cy="77.07" r="2.45" fill="#8078ff"/>
<circle cx="357.3" cy="74.61" r="2.45" fill="#8078ff"/>
<circle cx="362.08" cy="72.23" r="2.45" fill="#8078ff"/>
<circle cx="366.86" cy="69.91" r="2.45" fill="#8078ff"/>
<circle cx="371.65" cy="67.67" r="2.45" fill="#8078ff"/>
<circle cx="376.43" cy="65.48" r="2.45" fill="#8078ff"/>
<circle cx="381.21" cy="63.36" r="2.45" fill="#8078ff"/>
<circle cx="385.99" cy="61.29" r="2.45" fill="#8078ff"/>
<circle cx="390.77" cy="59.28" r="2.45" fill="#8078ff"/>
<circle cx="395.55" cy="57.33" r="2.45" fill="#8078ff"/>
<circle cx="400.34" cy="55.42" r="2.45" fill="#8078ff"/>
<circle cx="405.12" cy="53.56" r="2.45" fill="#8078ff"/>
<circle cx="409.9" cy="51.75" r="2.45" fill="#8078ff"/>
<circle cx="414.68" cy="49.99" r="2.45" fill="#8078ff"/>
<circle cx="419.46" cy="48.27" r="2.45" fill="#8078ff"/>
<circle cx="424.24" cy="46.59" r="2.45" fill="#8078ff"/>
<circle cx="429.03" cy="44.96" r="2.45" fill="#8078ff"/>
<circle cx="433.81" cy="43.36" r="2.45" fill="#8078ff"/>
<circle cx="438.59" cy="41.81" r="2.45" fill="#8078ff"/>
<circle cx="443.37" cy="40.29" r="2.45" fill="#8078ff"/>
<circle cx="448.15" cy="38.82" r="2.45" fill="#8078ff"/>
<path d="M448.15 115.49 L443.5 115.38 L438.84 115.34 L434.19 115.37 L429.54 115.47 L424.88 115.63 L420.23 115.87 L415.57 116.17 L410.92 116.55 L406.27 117 L401.61 117.53 L396.96 118.13 L392.3 118.81 L387.65 119.57 L383 120.41 L378.34 121.33 L373.69 122.33 L369.03 123.42 L364.38 124.6 L359.73 125.87 L355.07 127.23 L350.42 128.69 L345.76 130.25 L341.11 131.91 L336.46 133.68 L331.8 135.57 L327.15 137.57 L322.49 139.7 L317.84 141.97 L313.19 144.39 L308.53 146.96 L303.88 149.7 L299.22 152.64 L296.43 154.51 L293.64 156.47 L291.08 158.35 L288.75 160.15 L286.43 162.03 L284.1 164.01 L282 165.9 L279.91 167.91 L278.05 169.83 L276.19 172.26 L274.56 174.9 L273.16 177.44 L272.23 179.42 L271.65 180.99" fill="none" stroke="#ff1010" stroke-width="0.8" stroke-linejoin="round"/>
<circle cx="448.15" cy="115.49" r="2.05" fill="none" stroke="#ff1010" stroke-width="1.0"/>
<circle cx="443.5" cy="115.38" r="2.05" fill="none" stroke="#ff1010" stroke-width="1.0"/>
<circle cx="438.84" cy="115.34" r="2.05" fill="none" stroke="#ff1010" stroke-width="1.0"/>
<circle cx="434.19" cy="115.37" r="2.05" fill="none" stroke="#ff1010" stroke-width="1.0"/>
<circle cx="429.54" cy="115.47" r="2.05" fill="none" stroke="#ff1010" stroke-width="1.0"/>
<circle cx="424.88" cy="115.63" r="2.05" fill="none" stroke="#ff1010" stroke-width="1.0"/>
<circle cx="420.23" cy="115.87" r="2.05" fill="none" stroke="#ff1010" stroke-width="1.0"/>
<circle cx="415.57" cy="116.17" r="2.05" fill="none" stroke="#ff1010" stroke-width="1.0"/>
<circle cx="410.92" cy="116.55" r="2.05" fill="none" stroke="#ff1010" stroke-width="1.0"/>
<circle cx="406.27" cy="117" r="2.05" fill="none" stroke="#ff1010" stroke-width="1.0"/>
<circle cx="401.61" cy="117.53" r="2.05" fill="none" stroke="#ff1010" stroke-width="1.0"/>
<circle cx="396.96" cy="118.13" r="2.05" fill="none" stroke="#ff1010" stroke-width="1.0"/>
<circle cx="392.3" cy="118.81" r="2.05" fill="none" stroke="#ff1010" stroke-width="1.0"/>
<circle cx="387.65" cy="119.57" r="2.05" fill="none" stroke="#ff1010" stroke-width="1.0"/>
<circle cx="383" cy="120.41" r="2.05" fill="none" stroke="#ff1010" stroke-width="1.0"/>
<circle cx="378.34" cy="121.33" r="2.05" fill="none" stroke="#ff1010" stroke-width="1.0"/>
<circle cx="373.69" cy="122.33" r="2.05" fill="none" stroke="#ff1010" stroke-width="1.0"/>
<circle cx="369.03" cy="123.42" r="2.05" fill="none" stroke="#ff1010" stroke-width="1.0"/>
<circle cx="364.38" cy="124.6" r="2.05" fill="none" stroke="#ff1010" stroke-width="1.0"/>
<circle cx="359.73" cy="125.87" r="2.05" fill="none" stroke="#ff1010" stroke-width="1.0"/>
<circle cx="355.07" cy="127.23" r="2.05" fill="none" stroke="#ff1010" stroke-width="1.0"/>
<circle cx="350.42" cy="128.69" r="2.05" fill="none" stroke="#ff1010" stroke-width="1.0"/>
<circle cx="345.76" cy="130.25" r="2.05" fill="none" stroke="#ff1010" stroke-width="1.0"/>
<circle cx="341.11" cy="131.91" r="2.05" fill="none" stroke="#ff1010" stroke-width="1.0"/>
<circle cx="336.46" cy="133.68" r="2.05" fill="none" stroke="#ff1010" stroke-width="1.0"/>
<circle cx="331.8" cy="135.57" r="2.05" fill="none" stroke="#ff1010" stroke-width="1.0"/>
<circle cx="327.15" cy="137.57" r="2.05" fill="none" stroke="#ff1010" stroke-width="1.0"/>
<circle cx="322.49" cy="139.7" r="2.05" fill="none" stroke="#ff1010" stroke-width="1.0"/>
<circle cx="317.84" cy="141.97" r="2.05" fill="none" stroke="#ff1010" stroke-width="1.0"/>
<circle cx="313.19" cy="144.39" r="2.05" fill="none" stroke="#ff1010" stroke-width="1.0"/>
<circle cx="308.53" cy="146.96" r="2.05" fill="none" stroke="#ff1010" stroke-width="1.0"/>
<circle cx="303.88" cy="149.7" r="2.05" fill="none" stroke="#ff1010" stroke-width="1.0"/>
<circle cx="299.22" cy="152.64" r="2.05" fill="none" stroke="#ff1010" stroke-width="1.0"/>
<circle cx="296.43" cy="154.51" r="2.05" fill="none" stroke="#ff1010" stroke-width="1.0"/>
<circle cx="293.64" cy="156.47" r="2.05" fill="none" stroke="#ff1010" stroke-width="1.0"/>
<circle cx="291.08" cy="158.35" r="2.05" fill="none" stroke="#ff1010" stroke-width="1.0"/>
<circle cx="288.75" cy="160.15" r="2.05" fill="none" stroke="#ff1010" stroke-width="1.0"/>
<circle cx="286.43" cy="162.03" r="2.05" fill="none" stroke="#ff1010" stroke-width="1.0"/>
<circle cx="284.1" cy="164.01" r="2.05" fill="none" stroke="#ff1010" stroke-width="1.0"/>
<circle cx="282" cy="165.9" r="2.05" fill="none" stroke="#ff1010" stroke-width="1.0"/>
<circle cx="279.91" cy="167.91" r="2.05" fill="none" stroke="#ff1010" stroke-width="1.0"/>
<circle cx="278.05" cy="169.83" r="2.05" fill="none" stroke="#ff1010" stroke-width="1.0"/>
<circle cx="276.19" cy="172.26" r="2.05" fill="none" stroke="#ff1010" stroke-width="1.0"/>
<circle cx="274.56" cy="174.9" r="2.05" fill="none" stroke="#ff1010" stroke-width="1.0"/>
<circle cx="273.16" cy="177.44" r="2.05" fill="none" stroke="#ff1010" stroke-width="1.0"/>
<circle cx="272.23" cy="179.42" r="2.05" fill="none" stroke="#ff1010" stroke-width="1.0"/>
<circle cx="271.65" cy="180.99" r="2.05" fill="none" stroke="#ff1010" stroke-width="1.0"/>
<path d="M448.15 115.49 L443.5 115.38 L438.84 115.34 L434.19 115.37 L429.54 115.47 L424.88 115.63 L420.23 115.87 L415.57 116.17 L410.92 116.55 L406.27 117 L401.61 117.53 L396.96 118.13 L392.3 118.81 L387.65 119.57 L383 120.41 L378.34 121.33 L373.69 122.33 L369.03 123.42 L364.38 124.6 L359.73 125.87 L355.07 127.23 L350.42 128.69 L345.76 130.25 L341.11 131.91 L336.46 133.68 L331.8 135.57 L327.15 137.57 L322.49 139.7 L317.84 141.97 L313.19 144.39 L308.53 146.96 L303.88 149.7 L299.22 152.64 L296.43 154.51 L293.64 156.47 L291.08 158.35 L288.75 160.15 L286.43 162.03 L284.1 164.01 L282 165.9 L279.91 167.91 L278.05 169.83 L276.19 172.26 L274.56 174.9 L273.16 177.44 L272.23 179.42 L271.65 180.99" fill="none" stroke="#ff1010" stroke-width="0.8" stroke-linejoin="round"/>
<path d="M448.15 77.56 L443.5 78.66 L438.84 79.8 L434.19 80.97 L429.54 82.17 L424.88 83.41 L420.23 84.69 L415.57 86 L410.92 87.35 L406.27 88.73 L401.61 90.16 L396.96 91.63 L392.3 93.14 L387.65 94.69 L383 96.29 L378.34 97.94 L373.69 99.64 L369.03 101.39 L364.38 103.19 L359.73 105.06 L355.07 106.98 L350.42 108.97 L345.76 111.03 L341.11 113.17 L336.46 115.4 L331.8 117.71 L327.15 120.13 L322.49 122.65 L317.84 125.31 L313.19 128.11 L308.53 131.09 L303.88 134.26 L299.22 137.68 L296.43 139.87 L293.64 142.19 L291.08 144.45 L288.75 146.64 L286.43 148.98 L284.1 151.5 L282 153.99 L279.91 156.72 L278.05 159.46 L276.19 163.04 L274.56 167.1 L273.16 171.33 L272.23 175.01 L271.65 178.3" fill="none" stroke="#e8b84b" stroke-width="0.8" stroke-linejoin="round"/>
<circle cx="448.15" cy="77.56" r="2.05" fill="none" stroke="#e8b84b" stroke-width="1.0"/>
<circle cx="443.5" cy="78.66" r="2.05" fill="none" stroke="#e8b84b" stroke-width="1.0"/>
<circle cx="438.84" cy="79.8" r="2.05" fill="none" stroke="#e8b84b" stroke-width="1.0"/>
<circle cx="434.19" cy="80.97" r="2.05" fill="none" stroke="#e8b84b" stroke-width="1.0"/>
<circle cx="429.54" cy="82.17" r="2.05" fill="none" stroke="#e8b84b" stroke-width="1.0"/>
<circle cx="424.88" cy="83.41" r="2.05" fill="none" stroke="#e8b84b" stroke-width="1.0"/>
<circle cx="420.23" cy="84.69" r="2.05" fill="none" stroke="#e8b84b" stroke-width="1.0"/>
<circle cx="415.57" cy="86" r="2.05" fill="none" stroke="#e8b84b" stroke-width="1.0"/>
<circle cx="410.92" cy="87.35" r="2.05" fill="none" stroke="#e8b84b" stroke-width="1.0"/>
<circle cx="406.27" cy="88.73" r="2.05" fill="none" stroke="#e8b84b" stroke-width="1.0"/>
<circle cx="401.61" cy="90.16" r="2.05" fill="none" stroke="#e8b84b" stroke-width="1.0"/>
<circle cx="396.96" cy="91.63" r="2.05" fill="none" stroke="#e8b84b" stroke-width="1.0"/>
<circle cx="392.3" cy="93.14" r="2.05" fill="none" stroke="#e8b84b" stroke-width="1.0"/>
<circle cx="387.65" cy="94.69" r="2.05" fill="none" stroke="#e8b84b" stroke-width="1.0"/>
<circle cx="383" cy="96.29" r="2.05" fill="none" stroke="#e8b84b" stroke-width="1.0"/>
<circle cx="378.34" cy="97.94" r="2.05" fill="none" stroke="#e8b84b" stroke-width="1.0"/>
<circle cx="373.69" cy="99.64" r="2.05" fill="none" stroke="#e8b84b" stroke-width="1.0"/>
<circle cx="369.03" cy="101.39" r="2.05" fill="none" stroke="#e8b84b" stroke-width="1.0"/>
<circle cx="364.38" cy="103.19" r="2.05" fill="none" stroke="#e8b84b" stroke-width="1.0"/>
<circle cx="359.73" cy="105.06" r="2.05" fill="none" stroke="#e8b84b" stroke-width="1.0"/>
<circle cx="355.07" cy="106.98" r="2.05" fill="none" stroke="#e8b84b" stroke-width="1.0"/>
<circle cx="350.42" cy="108.97" r="2.05" fill="none" stroke="#e8b84b" stroke-width="1.0"/>
<circle cx="345.76" cy="111.03" r="2.05" fill="none" stroke="#e8b84b" stroke-width="1.0"/>
<circle cx="341.11" cy="113.17" r="2.05" fill="none" stroke="#e8b84b" stroke-width="1.0"/>
<circle cx="336.46" cy="115.4" r="2.05" fill="none" stroke="#e8b84b" stroke-width="1.0"/>
<circle cx="331.8" cy="117.71" r="2.05" fill="none" stroke="#e8b84b" stroke-width="1.0"/>
<circle cx="327.15" cy="120.13" r="2.05" fill="none" stroke="#e8b84b" stroke-width="1.0"/>
<circle cx="322.49" cy="122.65" r="2.05" fill="none" stroke="#e8b84b" stroke-width="1.0"/>
<circle cx="317.84" cy="125.31" r="2.05" fill="none" stroke="#e8b84b" stroke-width="1.0"/>
<circle cx="313.19" cy="128.11" r="2.05" fill="none" stroke="#e8b84b" stroke-width="1.0"/>
<circle cx="308.53" cy="131.09" r="2.05" fill="none" stroke="#e8b84b" stroke-width="1.0"/>
<circle cx="303.88" cy="134.26" r="2.05" fill="none" stroke="#e8b84b" stroke-width="1.0"/>
<circle cx="299.22" cy="137.68" r="2.05" fill="none" stroke="#e8b84b" stroke-width="1.0"/>
<circle cx="296.43" cy="139.87" r="2.05" fill="none" stroke="#e8b84b" stroke-width="1.0"/>
<circle cx="293.64" cy="142.19" r="2.05" fill="none" stroke="#e8b84b" stroke-width="1.0"/>
<circle cx="291.08" cy="144.45" r="2.05" fill="none" stroke="#e8b84b" stroke-width="1.0"/>
<circle cx="288.75" cy="146.64" r="2.05" fill="none" stroke="#e8b84b" stroke-width="1.0"/>
<circle cx="286.43" cy="148.98" r="2.05" fill="none" stroke="#e8b84b" stroke-width="1.0"/>
<circle cx="284.1" cy="151.5" r="2.05" fill="none" stroke="#e8b84b" stroke-width="1.0"/>
<circle cx="282" cy="153.99" r="2.05" fill="none" stroke="#e8b84b" stroke-width="1.0"/>
<circle cx="279.91" cy="156.72" r="2.05" fill="none" stroke="#e8b84b" stroke-width="1.0"/>
<circle cx="278.05" cy="159.46" r="2.05" fill="none" stroke="#e8b84b" stroke-width="1.0"/>
<circle cx="276.19" cy="163.04" r="2.05" fill="none" stroke="#e8b84b" stroke-width="1.0"/>
<circle cx="274.56" cy="167.1" r="2.05" fill="none" stroke="#e8b84b" stroke-width="1.0"/>
<circle cx="273.16" cy="171.33" r="2.05" fill="none" stroke="#e8b84b" stroke-width="1.0"/>
<circle cx="272.23" cy="175.01" r="2.05" fill="none" stroke="#e8b84b" stroke-width="1.0"/>
<circle cx="271.65" cy="178.3" r="2.05" fill="none" stroke="#e8b84b" stroke-width="1.0"/>
<path d="M448.15 77.56 L443.5 78.66 L438.84 79.8 L434.19 80.97 L429.54 82.17 L424.88 83.41 L420.23 84.69 L415.57 86 L410.92 87.35 L406.27 88.73 L401.61 90.16 L396.96 91.63 L392.3 93.14 L387.65 94.69 L383 96.29 L378.34 97.94 L373.69 99.64 L369.03 101.39 L364.38 103.19 L359.73 105.06 L355.07 106.98 L350.42 108.97 L345.76 111.03 L341.11 113.17 L336.46 115.4 L331.8 117.71 L327.15 120.13 L322.49 122.65 L317.84 125.31 L313.19 128.11 L308.53 131.09 L303.88 134.26 L299.22 137.68 L296.43 139.87 L293.64 142.19 L291.08 144.45 L288.75 146.64 L286.43 148.98 L284.1 151.5 L282 153.99 L279.91 156.72 L278.05 159.46 L276.19 163.04 L274.56 167.1 L273.16 171.33 L272.23 175.01 L271.65 178.3" fill="none" stroke="#e8b84b" stroke-width="0.8" stroke-linejoin="round"/>
<path d="M448.15 25.71 L443.5 26.93 L438.84 28.22 L434.19 29.6 L429.54 31.06 L424.88 32.61 L420.23 34.24 L415.57 35.96 L410.92 37.77 L406.27 39.67 L401.61 41.67 L396.96 43.77 L392.3 45.97 L387.65 48.27 L383 50.68 L378.34 53.19 L373.69 55.83 L369.03 58.57 L364.38 61.44 L359.73 64.44 L355.07 67.57 L350.42 70.84 L345.76 74.25 L341.11 77.81 L336.46 81.54 L331.8 85.44 L327.15 89.51 L322.49 93.75 L317.84 98.17 L313.19 102.76 L308.53 107.51 L303.88 112.42 L299.22 117.51 L296.43 120.68 L293.64 123.98 L291.08 127.14 L288.75 130.16 L286.43 133.37 L284.1 136.82 L282 140.19 L279.91 143.93 L278.05 147.7 L276.19 152.09 L274.56 156.8 L273.16 162.07 L272.23 167.03 L271.65 171.85" fill="none" stroke="#66ccff" stroke-width="0.8" stroke-linejoin="round"/>
<circle cx="448.15" cy="25.71" r="2.05" fill="none" stroke="#66ccff" stroke-width="1.0"/>
<circle cx="443.5" cy="26.93" r="2.05" fill="none" stroke="#66ccff" stroke-width="1.0"/>
<circle cx="438.84" cy="28.22" r="2.05" fill="none" stroke="#66ccff" stroke-width="1.0"/>
<circle cx="434.19" cy="29.6" r="2.05" fill="none" stroke="#66ccff" stroke-width="1.0"/>
<circle cx="429.54" cy="31.06" r="2.05" fill="none" stroke="#66ccff" stroke-width="1.0"/>
<circle cx="424.88" cy="32.61" r="2.05" fill="none" stroke="#66ccff" stroke-width="1.0"/>
<circle cx="420.23" cy="34.24" r="2.05" fill="none" stroke="#66ccff" stroke-width="1.0"/>
<circle cx="415.57" cy="35.96" r="2.05" fill="none" stroke="#66ccff" stroke-width="1.0"/>
<circle cx="410.92" cy="37.77" r="2.05" fill="none" stroke="#66ccff" stroke-width="1.0"/>
<circle cx="406.27" cy="39.67" r="2.05" fill="none" stroke="#66ccff" stroke-width="1.0"/>
<circle cx="401.61" cy="41.67" r="2.05" fill="none" stroke="#66ccff" stroke-width="1.0"/>
<circle cx="396.96" cy="43.77" r="2.05" fill="none" stroke="#66ccff" stroke-width="1.0"/>
<circle cx="392.3" cy="45.97" r="2.05" fill="none" stroke="#66ccff" stroke-width="1.0"/>
<circle cx="387.65" cy="48.27" r="2.05" fill="none" stroke="#66ccff" stroke-width="1.0"/>
<circle cx="383" cy="50.68" r="2.05" fill="none" stroke="#66ccff" stroke-width="1.0"/>
<circle cx="378.34" cy="53.19" r="2.05" fill="none" stroke="#66ccff" stroke-width="1.0"/>
<circle cx="373.69" cy="55.83" r="2.05" fill="none" stroke="#66ccff" stroke-width="1.0"/>
<circle cx="369.03" cy="58.57" r="2.05" fill="none" stroke="#66ccff" stroke-width="1.0"/>
<circle cx="364.38" cy="61.44" r="2.05" fill="none" stroke="#66ccff" stroke-width="1.0"/>
<circle cx="359.73" cy="64.44" r="2.05" fill="none" stroke="#66ccff" stroke-width="1.0"/>
<circle cx="355.07" cy="67.57" r="2.05" fill="none" stroke="#66ccff" stroke-width="1.0"/>
<circle cx="350.42" cy="70.84" r="2.05" fill="none" stroke="#66ccff" stroke-width="1.0"/>
<circle cx="345.76" cy="74.25" r="2.05" fill="none" stroke="#66ccff" stroke-width="1.0"/>
<circle cx="341.11" cy="77.81" r="2.05" fill="none" stroke="#66ccff" stroke-width="1.0"/>
<circle cx="336.46" cy="81.54" r="2.05" fill="none" stroke="#66ccff" stroke-width="1.0"/>
<circle cx="331.8" cy="85.44" r="2.05" fill="none" stroke="#66ccff" stroke-width="1.0"/>
<circle cx="327.15" cy="89.51" r="2.05" fill="none" stroke="#66ccff" stroke-width="1.0"/>
<circle cx="322.49" cy="93.75" r="2.05" fill="none" stroke="#66ccff" stroke-width="1.0"/>
<circle cx="317.84" cy="98.17" r="2.05" fill="none" stroke="#66ccff" stroke-width="1.0"/>
<circle cx="313.19" cy="102.76" r="2.05" fill="none" stroke="#66ccff" stroke-width="1.0"/>
<circle cx="308.53" cy="107.51" r="2.05" fill="none" stroke="#66ccff" stroke-width="1.0"/>
<circle cx="303.88" cy="112.42" r="2.05" fill="none" stroke="#66ccff" stroke-width="1.0"/>
<circle cx="299.22" cy="117.51" r="2.05" fill="none" stroke="#66ccff" stroke-width="1.0"/>
<circle cx="296.43" cy="120.68" r="2.05" fill="none" stroke="#66ccff" stroke-width="1.0"/>
<circle cx="293.64" cy="123.98" r="2.05" fill="none" stroke="#66ccff" stroke-width="1.0"/>
<circle cx="291.08" cy="127.14" r="2.05" fill="none" stroke="#66ccff" stroke-width="1.0"/>
<circle cx="288.75" cy="130.16" r="2.05" fill="none" stroke="#66ccff" stroke-width="1.0"/>
<circle cx="286.43" cy="133.37" r="2.05" fill="none" stroke="#66ccff" stroke-width="1.0"/>
<circle cx="284.1" cy="136.82" r="2.05" fill="none" stroke="#66ccff" stroke-width="1.0"/>
<circle cx="282" cy="140.19" r="2.05" fill="none" stroke="#66ccff" stroke-width="1.0"/>
<circle cx="279.91" cy="143.93" r="2.05" fill="none" stroke="#66ccff" stroke-width="1.0"/>
<circle cx="278.05" cy="147.7" r="2.05" fill="none" stroke="#66ccff" stroke-width="1.0"/>
<circle cx="276.19" cy="152.09" r="2.05" fill="none" stroke="#66ccff" stroke-width="1.0"/>
<circle cx="274.56" cy="156.8" r="2.05" fill="none" stroke="#66ccff" stroke-width="1.0"/>
<circle cx="273.16" cy="162.07" r="2.05" fill="none" stroke="#66ccff" stroke-width="1.0"/>
<circle cx="272.23" cy="167.03" r="2.05" fill="none" stroke="#66ccff" stroke-width="1.0"/>
<circle cx="271.65" cy="171.85" r="2.05" fill="none" stroke="#66ccff" stroke-width="1.0"/>
<path d="M448.15 25.71 L443.5 26.93 L438.84 28.22 L434.19 29.6 L429.54 31.06 L424.88 32.61 L420.23 34.24 L415.57 35.96 L410.92 37.77 L406.27 39.67 L401.61 41.67 L396.96 43.77 L392.3 45.97 L387.65 48.27 L383 50.68 L378.34 53.19 L373.69 55.83 L369.03 58.57 L364.38 61.44 L359.73 64.44 L355.07 67.57 L350.42 70.84 L345.76 74.25 L341.11 77.81 L336.46 81.54 L331.8 85.44 L327.15 89.51 L322.49 93.75 L317.84 98.17 L313.19 102.76 L308.53 107.51 L303.88 112.42 L299.22 117.51 L296.43 120.68 L293.64 123.98 L291.08 127.14 L288.75 130.16 L286.43 133.37 L284.1 136.82 L282 140.19 L279.91 143.93 L278.05 147.7 L276.19 152.09 L274.56 156.8 L273.16 162.07 L272.23 167.03 L271.65 171.85" fill="none" stroke="#66ccff" stroke-width="0.8" stroke-linejoin="round"/>
<path d="M448.15 39.06 L443.5 39.7 L438.84 40.4 L434.19 41.18 L429.54 42.03 L424.88 42.95 L420.23 43.94 L415.57 45.01 L410.92 46.15 L406.27 47.37 L401.61 48.66 L396.96 50.03 L392.3 51.49 L387.65 53.02 L383 54.64 L378.34 56.33 L373.69 58.12 L369.03 59.98 L364.38 61.94 L359.73 63.98 L355.07 66.12 L350.42 68.34 L345.76 70.66 L341.11 73.08 L336.46 75.59 L331.8 78.2 L327.15 80.93 L322.49 83.78 L317.84 86.78 L313.19 89.97 L308.53 93.36 L303.88 97.02 L299.22 100.99 L296.43 103.57 L293.64 106.33 L291.08 109.04 L288.75 111.7 L286.43 114.58 L284.1 117.78 L282 121.06 L279.91 124.89 L278.05 129 L276.19 134.15 L274.56 140.15 L273.16 147.48 L272.23 154.97 L271.65 162.82" fill="none" stroke="#8078ff" stroke-width="0.8" stroke-linejoin="round"/>
<circle cx="448.15" cy="39.06" r="2.05" fill="none" stroke="#8078ff" stroke-width="1.0"/>
<circle cx="443.5" cy="39.7" r="2.05" fill="none" stroke="#8078ff" stroke-width="1.0"/>
<circle cx="438.84" cy="40.4" r="2.05" fill="none" stroke="#8078ff" stroke-width="1.0"/>
<circle cx="434.19" cy="41.18" r="2.05" fill="none" stroke="#8078ff" stroke-width="1.0"/>
<circle cx="429.54" cy="42.03" r="2.05" fill="none" stroke="#8078ff" stroke-width="1.0"/>
<circle cx="424.88" cy="42.95" r="2.05" fill="none" stroke="#8078ff" stroke-width="1.0"/>
<circle cx="420.23" cy="43.94" r="2.05" fill="none" stroke="#8078ff" stroke-width="1.0"/>
<circle cx="415.57" cy="45.01" r="2.05" fill="none" stroke="#8078ff" stroke-width="1.0"/>
<circle cx="410.92" cy="46.15" r="2.05" fill="none" stroke="#8078ff" stroke-width="1.0"/>
<circle cx="406.27" cy="47.37" r="2.05" fill="none" stroke="#8078ff" stroke-width="1.0"/>
<circle cx="401.61" cy="48.66" r="2.05" fill="none" stroke="#8078ff" stroke-width="1.0"/>
<circle cx="396.96" cy="50.03" r="2.05" fill="none" stroke="#8078ff" stroke-width="1.0"/>
<circle cx="392.3" cy="51.49" r="2.05" fill="none" stroke="#8078ff" stroke-width="1.0"/>
<circle cx="387.65" cy="53.02" r="2.05" fill="none" stroke="#8078ff" stroke-width="1.0"/>
<circle cx="383" cy="54.64" r="2.05" fill="none" stroke="#8078ff" stroke-width="1.0"/>
<circle cx="378.34" cy="56.33" r="2.05" fill="none" stroke="#8078ff" stroke-width="1.0"/>
<circle cx="373.69" cy="58.12" r="2.05" fill="none" stroke="#8078ff" stroke-width="1.0"/>
<circle cx="369.03" cy="59.98" r="2.05" fill="none" stroke="#8078ff" stroke-width="1.0"/>
<circle cx="364.38" cy="61.94" r="2.05" fill="none" stroke="#8078ff" stroke-width="1.0"/>
<circle cx="359.73" cy="63.98" r="2.05" fill="none" stroke="#8078ff" stroke-width="1.0"/>
<circle cx="355.07" cy="66.12" r="2.05" fill="none" stroke="#8078ff" stroke-width="1.0"/>
<circle cx="350.42" cy="68.34" r="2.05" fill="none" stroke="#8078ff" stroke-width="1.0"/>
<circle cx="345.76" cy="70.66" r="2.05" fill="none" stroke="#8078ff" stroke-width="1.0"/>
<circle cx="341.11" cy="73.08" r="2.05" fill="none" stroke="#8078ff" stroke-width="1.0"/>
<circle cx="336.46" cy="75.59" r="2.05" fill="none" stroke="#8078ff" stroke-width="1.0"/>
<circle cx="331.8" cy="78.2" r="2.05" fill="none" stroke="#8078ff" stroke-width="1.0"/>
<circle cx="327.15" cy="80.93" r="2.05" fill="none" stroke="#8078ff" stroke-width="1.0"/>
<circle cx="322.49" cy="83.78" r="2.05" fill="none" stroke="#8078ff" stroke-width="1.0"/>
<circle cx="317.84" cy="86.78" r="2.05" fill="none" stroke="#8078ff" stroke-width="1.0"/>
<circle cx="313.19" cy="89.97" r="2.05" fill="none" stroke="#8078ff" stroke-width="1.0"/>
<circle cx="308.53" cy="93.36" r="2.05" fill="none" stroke="#8078ff" stroke-width="1.0"/>
<circle cx="303.88" cy="97.02" r="2.05" fill="none" stroke="#8078ff" stroke-width="1.0"/>
<circle cx="299.22" cy="100.99" r="2.05" fill="none" stroke="#8078ff" stroke-width="1.0"/>
<circle cx="296.43" cy="103.57" r="2.05" fill="none" stroke="#8078ff" stroke-width="1.0"/>
<circle cx="293.64" cy="106.33" r="2.05" fill="none" stroke="#8078ff" stroke-width="1.0"/>
<circle cx="291.08" cy="109.04" r="2.05" fill="none" stroke="#8078ff" stroke-width="1.0"/>
<circle cx="288.75" cy="111.7" r="2.05" fill="none" stroke="#8078ff" stroke-width="1.0"/>
<circle cx="286.43" cy="114.58" r="2.05" fill="none" stroke="#8078ff" stroke-width="1.0"/>
<circle cx="284.1" cy="117.78" r="2.05" fill="none" stroke="#8078ff" stroke-width="1.0"/>
<circle cx="282" cy="121.06" r="2.05" fill="none" stroke="#8078ff" stroke-width="1.0"/>
<circle cx="279.91" cy="124.89" r="2.05" fill="none" stroke="#8078ff" stroke-width="1.0"/>
<circle cx="278.05" cy="129" r="2.05" fill="none" stroke="#8078ff" stroke-width="1.0"/>
<circle cx="276.19" cy="134.15" r="2.05" fill="none" stroke="#8078ff" stroke-width="1.0"/>
<circle cx="274.56" cy="140.15" r="2.05" fill="none" stroke="#8078ff" stroke-width="1.0"/>
<circle cx="273.16" cy="147.48" r="2.05" fill="none" stroke="#8078ff" stroke-width="1.0"/>
<circle cx="272.23" cy="154.97" r="2.05" fill="none" stroke="#8078ff" stroke-width="1.0"/>
<circle cx="271.65" cy="162.82" r="2.05" fill="none" stroke="#8078ff" stroke-width="1.0"/>
<path d="M448.15 39.06 L443.5 39.7 L438.84 40.4 L434.19 41.18 L429.54 42.03 L424.88 42.95 L420.23 43.94 L415.57 45.01 L410.92 46.15 L406.27 47.37 L401.61 48.66 L396.96 50.03 L392.3 51.49 L387.65 53.02 L383 54.64 L378.34 56.33 L373.69 58.12 L369.03 59.98 L364.38 61.94 L359.73 63.98 L355.07 66.12 L350.42 68.34 L345.76 70.66 L341.11 73.08 L336.46 75.59 L331.8 78.2 L327.15 80.93 L322.49 83.78 L317.84 86.78 L313.19 89.97 L308.53 93.36 L303.88 97.02 L299.22 100.99 L296.43 103.57 L293.64 106.33 L291.08 109.04 L288.75 111.7 L286.43 114.58 L284.1 117.78 L282 121.06 L279.91 124.89 L278.05 129 L276.19 134.15 L274.56 140.15 L273.16 147.48 L272.23 154.97 L271.65 162.82" fill="none" stroke="#8078ff" stroke-width="0.8" stroke-linejoin="round"/>
<rect x="267.5" y="1.5" width="185.2" height="185.25" fill="none" stroke="#1a1a1a" stroke-width="1.2"/>
<line x1="263" y1="183.1" x2="267.5" y2="183.1" stroke="#1a1a1a" stroke-width="1.1"/>
<text transform="translate(261 186) scale(0.92 1)" text-anchor="end" font-size="8.0" fill="#1a1a1a" stroke="#1a1a1a" stroke-width="0.22">0</text>
<line x1="263" y1="143.6" x2="267.5" y2="143.6" stroke="#1a1a1a" stroke-width="1.1"/>
<text transform="translate(261 146.5) scale(0.92 1)" text-anchor="end" font-size="8.0" fill="#1a1a1a" stroke="#1a1a1a" stroke-width="0.22">20</text>
<line x1="263" y1="104.1" x2="267.5" y2="104.1" stroke="#1a1a1a" stroke-width="1.1"/>
<text transform="translate(261 107) scale(0.92 1)" text-anchor="end" font-size="8.0" fill="#1a1a1a" stroke="#1a1a1a" stroke-width="0.22">40</text>
<line x1="263" y1="64.6" x2="267.5" y2="64.6" stroke="#1a1a1a" stroke-width="1.1"/>
<text transform="translate(261 67.5) scale(0.92 1)" text-anchor="end" font-size="8.0" fill="#1a1a1a" stroke="#1a1a1a" stroke-width="0.22">60</text>
<line x1="263" y1="25.1" x2="267.5" y2="25.1" stroke="#1a1a1a" stroke-width="1.1"/>
<text transform="translate(261 28) scale(0.92 1)" text-anchor="end" font-size="8.0" fill="#1a1a1a" stroke="#1a1a1a" stroke-width="0.22">80</text>
<line x1="271.3" y1="186.75" x2="271.3" y2="191.25" stroke="#1a1a1a" stroke-width="1.1"/>
<text transform="translate(271.3 201.4) scale(0.92 1)" text-anchor="middle" font-size="8.0" fill="#1a1a1a" stroke="#1a1a1a" stroke-width="0.22">0</text>
<line x1="294.57" y1="186.75" x2="294.57" y2="191.25" stroke="#1a1a1a" stroke-width="1.1"/>
<text transform="translate(294.57 201.4) scale(0.92 1)" text-anchor="middle" font-size="8.0" fill="#1a1a1a" stroke="#1a1a1a" stroke-width="0.22">100</text>
<line x1="317.84" y1="186.75" x2="317.84" y2="191.25" stroke="#1a1a1a" stroke-width="1.1"/>
<text transform="translate(317.84 201.4) scale(0.92 1)" text-anchor="middle" font-size="8.0" fill="#1a1a1a" stroke="#1a1a1a" stroke-width="0.22">200</text>
<line x1="341.11" y1="186.75" x2="341.11" y2="191.25" stroke="#1a1a1a" stroke-width="1.1"/>
<text transform="translate(341.11 201.4) scale(0.92 1)" text-anchor="middle" font-size="8.0" fill="#1a1a1a" stroke="#1a1a1a" stroke-width="0.22">300</text>
<line x1="364.38" y1="186.75" x2="364.38" y2="191.25" stroke="#1a1a1a" stroke-width="1.1"/>
<text transform="translate(364.38 201.4) scale(0.92 1)" text-anchor="middle" font-size="8.0" fill="#1a1a1a" stroke="#1a1a1a" stroke-width="0.22">400</text>
<line x1="387.65" y1="186.75" x2="387.65" y2="191.25" stroke="#1a1a1a" stroke-width="1.1"/>
<text transform="translate(387.65 201.4) scale(0.92 1)" text-anchor="middle" font-size="8.0" fill="#1a1a1a" stroke="#1a1a1a" stroke-width="0.22">500</text>
<line x1="410.92" y1="186.75" x2="410.92" y2="191.25" stroke="#1a1a1a" stroke-width="1.1"/>
<text transform="translate(410.92 201.4) scale(0.92 1)" text-anchor="middle" font-size="8.0" fill="#1a1a1a" stroke="#1a1a1a" stroke-width="0.22">600</text>
<line x1="434.19" y1="186.75" x2="434.19" y2="191.25" stroke="#1a1a1a" stroke-width="1.1"/>
<text transform="translate(434.19 201.4) scale(0.92 1)" text-anchor="middle" font-size="8.0" fill="#1a1a1a" stroke="#1a1a1a" stroke-width="0.22">700</text>
<line x1="270.1" y1="10.8" x2="286.1" y2="10.8" stroke="#66ccff" stroke-width="1"/>
<circle cx="278.4" cy="10.8" r="2.5" fill="#66ccff"/>
<line x1="289.3" y1="10.8" x2="305.6" y2="10.8" stroke="#66ccff" stroke-width="1"/>
<circle cx="297.4" cy="10.8" r="2.2" fill="none" stroke="#66ccff" stroke-width="0.8"/>
<text x="309.8" y="13.8" font-size="8.7" fill="#66ccff">CO<tspan font-size="6.6" dy="2.2">2</tspan></text>
<line x1="270.1" y1="22.4" x2="286.1" y2="22.4" stroke="#8078ff" stroke-width="1"/>
<circle cx="278.4" cy="22.4" r="2.5" fill="#8078ff"/>
<line x1="289.3" y1="22.4" x2="305.6" y2="22.4" stroke="#8078ff" stroke-width="1"/>
<circle cx="297.4" cy="22.4" r="2.2" fill="none" stroke="#8078ff" stroke-width="0.8"/>
<text x="309.8" y="25.4" font-size="8.7" fill="#3333ff" stroke="#3333ff" stroke-width="0.22">C<tspan font-size="6.6" dy="2.2">2</tspan><tspan dy="-2.2">H</tspan><tspan font-size="6.6" dy="2.2">2</tspan></text>
<line x1="270.1" y1="33.5" x2="286.1" y2="33.5" stroke="#e8b84b" stroke-width="1"/>
<circle cx="278.4" cy="33.5" r="2.5" fill="#e8b84b"/>
<line x1="289.3" y1="33.5" x2="305.6" y2="33.5" stroke="#e8b84b" stroke-width="1"/>
<circle cx="297.4" cy="33.5" r="2.2" fill="none" stroke="#e8b84b" stroke-width="0.8"/>
<text x="309.8" y="36.5" font-size="8.7" fill="#e8b84b">C<tspan font-size="6.6" dy="2.2">2</tspan><tspan dy="-2.2">H</tspan><tspan font-size="6.6" dy="2.2">4</tspan></text>
<line x1="270.1" y1="44.7" x2="286.1" y2="44.7" stroke="#ff1010" stroke-width="1"/>
<circle cx="278.4" cy="44.7" r="2.5" fill="#ff1010"/>
<line x1="289.3" y1="44.7" x2="305.6" y2="44.7" stroke="#ff1010" stroke-width="1"/>
<circle cx="297.4" cy="44.7" r="2.2" fill="none" stroke="#ff1010" stroke-width="0.8"/>
<text x="309.8" y="47.7" font-size="8.7" fill="#ff1010" stroke="#ff1010" stroke-width="0.22">C<tspan font-size="6.6" dy="2.2">2</tspan><tspan dy="-2.2">H</tspan><tspan font-size="6.6" dy="2.2">6</tspan></text>
<text x="449.1" y="13.4" text-anchor="end" font-size="8.7" fill="#1a1a1a" stroke="#1a1a1a" stroke-width="0.22">273 K</text>
<text x="360.1" y="210.6" text-anchor="middle" font-size="8.7" fill="#1a1a1a" stroke="#1a1a1a" stroke-width="0.22"><tspan font-style="italic">P</tspan> (mmHg)</text>
<text transform="translate(245.3 94.12) rotate(-90)" text-anchor="middle" font-size="8.7" fill="#1a1a1a" stroke="#1a1a1a" stroke-width="0.22">Gas uptake (cm<tspan dx="0.8" font-size="6.4" dy="-5.2">3</tspan><tspan dy="5.2"> g</tspan><tspan dx="0.8" font-size="6.4" dy="-5.2">-1</tspan><tspan dy="5.2">)</tspan></text>
<text x="238.8" y="9.7" font-size="13.5" fill="#1a1a1a" stroke="#1a1a1a" stroke-width="0.22">c</text>
<path d="M271.67 400.13 L271.79 399.9 L271.95 399.66 L272.18 399.38 L272.53 399.03 L273 398.63 L273.7 398.1 L274.63 397.48 L275.79 396.78 L277.19 396 L278.82 395.16 L280.69 394.25 L282.78 393.29 L285.11 392.27 L287.68 391.2 L290.47 390.08 L293.5 388.91 L296.76 387.69 L300.26 386.43 L303.99 385.13 L307.95 383.8 L312.14 382.42 L316.57 381.01 L321.23 379.57 L326.12 378.1 L331.25 376.6 L336.61 375.07 L342.2 373.52 L347.8 372 L353.41 370.53 L359.01 369.09 L364.62 367.68 L370.22 366.3 L375.82 364.96 L381.43 363.64 L387.03 362.35 L392.64 361.09 L398.24 359.85 L403.85 358.64 L409.45 357.45 L415.05 356.29 L420.66 355.14 L426.26 354.02 L431.87 352.92 L437.47 351.85 L443.08 350.79 L448.68 349.75" fill="none" stroke="#ff1010" stroke-width="0.9" stroke-linejoin="round"/>
<circle cx="271.67" cy="400.13" r="2.45" fill="#ff1010"/>
<circle cx="271.79" cy="399.9" r="2.45" fill="#ff1010"/>
<circle cx="271.95" cy="399.66" r="2.45" fill="#ff1010"/>
<circle cx="272.18" cy="399.38" r="2.45" fill="#ff1010"/>
<circle cx="272.53" cy="399.03" r="2.45" fill="#ff1010"/>
<circle cx="273" cy="398.63" r="2.45" fill="#ff1010"/>
<circle cx="273.7" cy="398.1" r="2.45" fill="#ff1010"/>
<circle cx="274.63" cy="397.48" r="2.45" fill="#ff1010"/>
<circle cx="275.79" cy="396.78" r="2.45" fill="#ff1010"/>
<circle cx="277.19" cy="396" r="2.45" fill="#ff1010"/>
<circle cx="278.82" cy="395.16" r="2.45" fill="#ff1010"/>
<circle cx="280.69" cy="394.25" r="2.45" fill="#ff1010"/>
<circle cx="282.78" cy="393.29" r="2.45" fill="#ff1010"/>
<circle cx="285.11" cy="392.27" r="2.45" fill="#ff1010"/>
<circle cx="287.68" cy="391.2" r="2.45" fill="#ff1010"/>
<circle cx="290.47" cy="390.08" r="2.45" fill="#ff1010"/>
<circle cx="293.5" cy="388.91" r="2.45" fill="#ff1010"/>
<circle cx="296.76" cy="387.69" r="2.45" fill="#ff1010"/>
<circle cx="300.26" cy="386.43" r="2.45" fill="#ff1010"/>
<circle cx="303.99" cy="385.13" r="2.45" fill="#ff1010"/>
<circle cx="307.95" cy="383.8" r="2.45" fill="#ff1010"/>
<circle cx="312.14" cy="382.42" r="2.45" fill="#ff1010"/>
<circle cx="316.57" cy="381.01" r="2.45" fill="#ff1010"/>
<circle cx="321.23" cy="379.57" r="2.45" fill="#ff1010"/>
<circle cx="326.12" cy="378.1" r="2.45" fill="#ff1010"/>
<circle cx="331.25" cy="376.6" r="2.45" fill="#ff1010"/>
<circle cx="336.61" cy="375.07" r="2.45" fill="#ff1010"/>
<circle cx="342.2" cy="373.52" r="2.45" fill="#ff1010"/>
<circle cx="347.8" cy="372" r="2.45" fill="#ff1010"/>
<circle cx="353.41" cy="370.53" r="2.45" fill="#ff1010"/>
<circle cx="359.01" cy="369.09" r="2.45" fill="#ff1010"/>
<circle cx="364.62" cy="367.68" r="2.45" fill="#ff1010"/>
<circle cx="370.22" cy="366.3" r="2.45" fill="#ff1010"/>
<circle cx="375.82" cy="364.96" r="2.45" fill="#ff1010"/>
<circle cx="381.43" cy="363.64" r="2.45" fill="#ff1010"/>
<circle cx="387.03" cy="362.35" r="2.45" fill="#ff1010"/>
<circle cx="392.64" cy="361.09" r="2.45" fill="#ff1010"/>
<circle cx="398.24" cy="359.85" r="2.45" fill="#ff1010"/>
<circle cx="403.85" cy="358.64" r="2.45" fill="#ff1010"/>
<circle cx="409.45" cy="357.45" r="2.45" fill="#ff1010"/>
<circle cx="415.05" cy="356.29" r="2.45" fill="#ff1010"/>
<circle cx="420.66" cy="355.14" r="2.45" fill="#ff1010"/>
<circle cx="426.26" cy="354.02" r="2.45" fill="#ff1010"/>
<circle cx="431.87" cy="352.92" r="2.45" fill="#ff1010"/>
<circle cx="437.47" cy="351.85" r="2.45" fill="#ff1010"/>
<circle cx="443.08" cy="350.79" r="2.45" fill="#ff1010"/>
<circle cx="448.68" cy="349.75" r="2.45" fill="#ff1010"/>
<path d="M271.67 399.48 L271.79 398.55 L271.95 397.68 L272.18 396.74 L272.53 395.63 L273 394.46 L273.7 393.02 L274.63 391.44 L275.79 389.79 L277.19 388.09 L278.82 386.37 L280.69 384.63 L282.78 382.88 L285.11 381.13 L287.68 379.36 L290.47 377.59 L293.5 375.82 L296.76 374.04 L300.26 372.26 L303.99 370.47 L307.95 368.67 L312.14 366.87 L316.57 365.06 L321.23 363.24 L326.12 361.41 L331.25 359.58 L336.61 357.73 L342.2 355.87 L347.8 354.06 L353.41 352.31 L359.01 350.61 L364.62 348.95 L370.22 347.33 L375.82 345.74 L381.43 344.18 L387.03 342.65 L392.64 341.15 L398.24 339.67 L403.85 338.21 L409.45 336.76 L415.05 335.34 L420.66 333.94 L426.26 332.55 L431.87 331.17 L437.47 329.81 L443.08 328.46 L448.68 327.12" fill="none" stroke="#e8b84b" stroke-width="0.9" stroke-linejoin="round"/>
<circle cx="271.67" cy="399.48" r="2.45" fill="#e8b84b"/>
<circle cx="271.79" cy="398.55" r="2.45" fill="#e8b84b"/>
<circle cx="271.95" cy="397.68" r="2.45" fill="#e8b84b"/>
<circle cx="272.18" cy="396.74" r="2.45" fill="#e8b84b"/>
<circle cx="272.53" cy="395.63" r="2.45" fill="#e8b84b"/>
<circle cx="273" cy="394.46" r="2.45" fill="#e8b84b"/>
<circle cx="273.7" cy="393.02" r="2.45" fill="#e8b84b"/>
<circle cx="274.63" cy="391.44" r="2.45" fill="#e8b84b"/>
<circle cx="275.79" cy="389.79" r="2.45" fill="#e8b84b"/>
<circle cx="277.19" cy="388.09" r="2.45" fill="#e8b84b"/>
<circle cx="278.82" cy="386.37" r="2.45" fill="#e8b84b"/>
<circle cx="280.69" cy="384.63" r="2.45" fill="#e8b84b"/>
<circle cx="282.78" cy="382.88" r="2.45" fill="#e8b84b"/>
<circle cx="285.11" cy="381.13" r="2.45" fill="#e8b84b"/>
<circle cx="287.68" cy="379.36" r="2.45" fill="#e8b84b"/>
<circle cx="290.47" cy="377.59" r="2.45" fill="#e8b84b"/>
<circle cx="293.5" cy="375.82" r="2.45" fill="#e8b84b"/>
<circle cx="296.76" cy="374.04" r="2.45" fill="#e8b84b"/>
<circle cx="300.26" cy="372.26" r="2.45" fill="#e8b84b"/>
<circle cx="303.99" cy="370.47" r="2.45" fill="#e8b84b"/>
<circle cx="307.95" cy="368.67" r="2.45" fill="#e8b84b"/>
<circle cx="312.14" cy="366.87" r="2.45" fill="#e8b84b"/>
<circle cx="316.57" cy="365.06" r="2.45" fill="#e8b84b"/>
<circle cx="321.23" cy="363.24" r="2.45" fill="#e8b84b"/>
<circle cx="326.12" cy="361.41" r="2.45" fill="#e8b84b"/>
<circle cx="331.25" cy="359.58" r="2.45" fill="#e8b84b"/>
<circle cx="336.61" cy="357.73" r="2.45" fill="#e8b84b"/>
<circle cx="342.2" cy="355.87" r="2.45" fill="#e8b84b"/>
<circle cx="347.8" cy="354.06" r="2.45" fill="#e8b84b"/>
<circle cx="353.41" cy="352.31" r="2.45" fill="#e8b84b"/>
<circle cx="359.01" cy="350.61" r="2.45" fill="#e8b84b"/>
<circle cx="364.62" cy="348.95" r="2.45" fill="#e8b84b"/>
<circle cx="370.22" cy="347.33" r="2.45" fill="#e8b84b"/>
<circle cx="375.82" cy="345.74" r="2.45" fill="#e8b84b"/>
<circle cx="381.43" cy="344.18" r="2.45" fill="#e8b84b"/>
<circle cx="387.03" cy="342.65" r="2.45" fill="#e8b84b"/>
<circle cx="392.64" cy="341.15" r="2.45" fill="#e8b84b"/>
<circle cx="398.24" cy="339.67" r="2.45" fill="#e8b84b"/>
<circle cx="403.85" cy="338.21" r="2.45" fill="#e8b84b"/>
<circle cx="409.45" cy="336.76" r="2.45" fill="#e8b84b"/>
<circle cx="415.05" cy="335.34" r="2.45" fill="#e8b84b"/>
<circle cx="420.66" cy="333.94" r="2.45" fill="#e8b84b"/>
<circle cx="426.26" cy="332.55" r="2.45" fill="#e8b84b"/>
<circle cx="431.87" cy="331.17" r="2.45" fill="#e8b84b"/>
<circle cx="437.47" cy="329.81" r="2.45" fill="#e8b84b"/>
<circle cx="443.08" cy="328.46" r="2.45" fill="#e8b84b"/>
<circle cx="448.68" cy="327.12" r="2.45" fill="#e8b84b"/>
<path d="M271.67 397.75 L271.79 396.35 L271.95 395.03 L272.18 393.63 L272.53 392.01 L273 390.3 L273.7 388.24 L274.63 386.01 L275.79 383.72 L277.19 381.41 L278.82 379.09 L280.69 376.79 L282.78 374.51 L285.11 372.24 L287.68 369.99 L290.47 367.76 L293.5 365.54 L296.76 363.33 L300.26 361.12 L303.99 358.92 L307.95 356.71 L312.14 354.5 L316.57 352.27 L321.23 350.03 L326.12 347.76 L331.25 345.47 L336.61 343.15 L342.2 340.79 L347.8 338.48 L353.41 336.21 L359.01 333.98 L364.62 331.78 L370.22 329.6 L375.82 327.43 L381.43 325.29 L387.03 323.15 L392.64 321.02 L398.24 318.89 L403.85 316.77 L409.45 314.65 L415.05 312.52 L420.66 310.39 L426.26 308.26 L431.87 306.13 L437.47 303.98 L443.08 301.83 L448.68 299.67" fill="none" stroke="#66ccff" stroke-width="0.9" stroke-linejoin="round"/>
<circle cx="271.67" cy="397.75" r="2.45" fill="#66ccff"/>
<circle cx="271.79" cy="396.35" r="2.45" fill="#66ccff"/>
<circle cx="271.95" cy="395.03" r="2.45" fill="#66ccff"/>
<circle cx="272.18" cy="393.63" r="2.45" fill="#66ccff"/>
<circle cx="272.53" cy="392.01" r="2.45" fill="#66ccff"/>
<circle cx="273" cy="390.3" r="2.45" fill="#66ccff"/>
<circle cx="273.7" cy="388.24" r="2.45" fill="#66ccff"/>
<circle cx="274.63" cy="386.01" r="2.45" fill="#66ccff"/>
<circle cx="275.79" cy="383.72" r="2.45" fill="#66ccff"/>
<circle cx="277.19" cy="381.41" r="2.45" fill="#66ccff"/>
<circle cx="278.82" cy="379.09" r="2.45" fill="#66ccff"/>
<circle cx="280.69" cy="376.79" r="2.45" fill="#66ccff"/>
<circle cx="282.78" cy="374.51" r="2.45" fill="#66ccff"/>
<circle cx="285.11" cy="372.24" r="2.45" fill="#66ccff"/>
<circle cx="287.68" cy="369.99" r="2.45" fill="#66ccff"/>
<circle cx="290.47" cy="367.76" r="2.45" fill="#66ccff"/>
<circle cx="293.5" cy="365.54" r="2.45" fill="#66ccff"/>
<circle cx="296.76" cy="363.33" r="2.45" fill="#66ccff"/>
<circle cx="300.26" cy="361.12" r="2.45" fill="#66ccff"/>
<circle cx="303.99" cy="358.92" r="2.45" fill="#66ccff"/>
<circle cx="307.95" cy="356.71" r="2.45" fill="#66ccff"/>
<circle cx="312.14" cy="354.5" r="2.45" fill="#66ccff"/>
<circle cx="316.57" cy="352.27" r="2.45" fill="#66ccff"/>
<circle cx="321.23" cy="350.03" r="2.45" fill="#66ccff"/>
<circle cx="326.12" cy="347.76" r="2.45" fill="#66ccff"/>
<circle cx="331.25" cy="345.47" r="2.45" fill="#66ccff"/>
<circle cx="336.61" cy="343.15" r="2.45" fill="#66ccff"/>
<circle cx="342.2" cy="340.79" r="2.45" fill="#66ccff"/>
<circle cx="347.8" cy="338.48" r="2.45" fill="#66ccff"/>
<circle cx="353.41" cy="336.21" r="2.45" fill="#66ccff"/>
<circle cx="359.01" cy="333.98" r="2.45" fill="#66ccff"/>
<circle cx="364.62" cy="331.78" r="2.45" fill="#66ccff"/>
<circle cx="370.22" cy="329.6" r="2.45" fill="#66ccff"/>
<circle cx="375.82" cy="327.43" r="2.45" fill="#66ccff"/>
<circle cx="381.43" cy="325.29" r="2.45" fill="#66ccff"/>
<circle cx="387.03" cy="323.15" r="2.45" fill="#66ccff"/>
<circle cx="392.64" cy="321.02" r="2.45" fill="#66ccff"/>
<circle cx="398.24" cy="318.89" r="2.45" fill="#66ccff"/>
<circle cx="403.85" cy="316.77" r="2.45" fill="#66ccff"/>
<circle cx="409.45" cy="314.65" r="2.45" fill="#66ccff"/>
<circle cx="415.05" cy="312.52" r="2.45" fill="#66ccff"/>
<circle cx="420.66" cy="310.39" r="2.45" fill="#66ccff"/>
<circle cx="426.26" cy="308.26" r="2.45" fill="#66ccff"/>
<circle cx="431.87" cy="306.13" r="2.45" fill="#66ccff"/>
<circle cx="437.47" cy="303.98" r="2.45" fill="#66ccff"/>
<circle cx="443.08" cy="301.83" r="2.45" fill="#66ccff"/>
<circle cx="448.68" cy="299.67" r="2.45" fill="#66ccff"/>
<path d="M271.67 393.47 L271.79 391.28 L271.95 389.24 L272.18 387.1 L272.53 384.65 L273 382.1 L273.7 379.08 L274.63 375.89 L275.79 372.68 L277.19 369.51 L278.82 366.41 L280.69 363.4 L282.78 360.48 L285.11 357.65 L287.68 354.91 L290.47 352.24 L293.5 349.64 L296.76 347.09 L300.26 344.59 L303.99 342.12 L307.95 339.67 L312.14 337.23 L316.57 334.79 L321.23 332.34 L326.12 329.86 L331.25 327.34 L336.61 324.77 L342.2 322.15 L347.8 319.6 L353.41 317.12 L359.01 314.7 L364.62 312.34 L370.22 310.03 L375.82 307.79 L381.43 305.59 L387.03 303.46 L392.64 301.37 L398.24 299.34 L403.85 297.36 L409.45 295.42 L415.05 293.54 L420.66 291.7 L426.26 289.9 L431.87 288.15 L437.47 286.45 L443.08 284.79 L448.68 283.17" fill="none" stroke="#8078ff" stroke-width="0.9" stroke-linejoin="round"/>
<circle cx="271.67" cy="393.47" r="2.45" fill="#8078ff"/>
<circle cx="271.79" cy="391.28" r="2.45" fill="#8078ff"/>
<circle cx="271.95" cy="389.24" r="2.45" fill="#8078ff"/>
<circle cx="272.18" cy="387.1" r="2.45" fill="#8078ff"/>
<circle cx="272.53" cy="384.65" r="2.45" fill="#8078ff"/>
<circle cx="273" cy="382.1" r="2.45" fill="#8078ff"/>
<circle cx="273.7" cy="379.08" r="2.45" fill="#8078ff"/>
<circle cx="274.63" cy="375.89" r="2.45" fill="#8078ff"/>
<circle cx="275.79" cy="372.68" r="2.45" fill="#8078ff"/>
<circle cx="277.19" cy="369.51" r="2.45" fill="#8078ff"/>
<circle cx="278.82" cy="366.41" r="2.45" fill="#8078ff"/>
<circle cx="280.69" cy="363.4" r="2.45" fill="#8078ff"/>
<circle cx="282.78" cy="360.48" r="2.45" fill="#8078ff"/>
<circle cx="285.11" cy="357.65" r="2.45" fill="#8078ff"/>
<circle cx="287.68" cy="354.91" r="2.45" fill="#8078ff"/>
<circle cx="290.47" cy="352.24" r="2.45" fill="#8078ff"/>
<circle cx="293.5" cy="349.64" r="2.45" fill="#8078ff"/>
<circle cx="296.76" cy="347.09" r="2.45" fill="#8078ff"/>
<circle cx="300.26" cy="344.59" r="2.45" fill="#8078ff"/>
<circle cx="303.99" cy="342.12" r="2.45" fill="#8078ff"/>
<circle cx="307.95" cy="339.67" r="2.45" fill="#8078ff"/>
<circle cx="312.14" cy="337.23" r="2.45" fill="#8078ff"/>
<circle cx="316.57" cy="334.79" r="2.45" fill="#8078ff"/>
<circle cx="321.23" cy="332.34" r="2.45" fill="#8078ff"/>
<circle cx="326.12" cy="329.86" r="2.45" fill="#8078ff"/>
<circle cx="331.25" cy="327.34" r="2.45" fill="#8078ff"/>
<circle cx="336.61" cy="324.77" r="2.45" fill="#8078ff"/>
<circle cx="342.2" cy="322.15" r="2.45" fill="#8078ff"/>
<circle cx="347.8" cy="319.6" r="2.45" fill="#8078ff"/>
<circle cx="353.41" cy="317.12" r="2.45" fill="#8078ff"/>
<circle cx="359.01" cy="314.7" r="2.45" fill="#8078ff"/>
<circle cx="364.62" cy="312.34" r="2.45" fill="#8078ff"/>
<circle cx="370.22" cy="310.03" r="2.45" fill="#8078ff"/>
<circle cx="375.82" cy="307.79" r="2.45" fill="#8078ff"/>
<circle cx="381.43" cy="305.59" r="2.45" fill="#8078ff"/>
<circle cx="387.03" cy="303.46" r="2.45" fill="#8078ff"/>
<circle cx="392.64" cy="301.37" r="2.45" fill="#8078ff"/>
<circle cx="398.24" cy="299.34" r="2.45" fill="#8078ff"/>
<circle cx="403.85" cy="297.36" r="2.45" fill="#8078ff"/>
<circle cx="409.45" cy="295.42" r="2.45" fill="#8078ff"/>
<circle cx="415.05" cy="293.54" r="2.45" fill="#8078ff"/>
<circle cx="420.66" cy="291.7" r="2.45" fill="#8078ff"/>
<circle cx="426.26" cy="289.9" r="2.45" fill="#8078ff"/>
<circle cx="431.87" cy="288.15" r="2.45" fill="#8078ff"/>
<circle cx="437.47" cy="286.45" r="2.45" fill="#8078ff"/>
<circle cx="443.08" cy="284.79" r="2.45" fill="#8078ff"/>
<circle cx="448.68" cy="283.17" r="2.45" fill="#8078ff"/>
<path d="M448.68 349.75 L443.04 350.61 L437.4 351.51 L431.76 352.43 L426.12 353.39 L420.47 354.38 L414.83 355.41 L409.19 356.46 L403.55 357.55 L397.91 358.67 L392.27 359.83 L386.63 361.01 L380.99 362.24 L375.35 363.5 L369.71 364.79 L364.06 366.13 L358.42 367.5 L352.78 368.91 L347.14 370.37 L341.5 371.86 L336.37 373.26 L331.48 374.64 L326.82 375.98 L322.39 377.29 L317.97 378.64 L313.77 379.96 L309.58 381.31 L305.62 382.63 L301.89 383.9 L298.4 385.14 L295.13 386.33 L292.1 387.48 L289.31 388.57 L286.75 389.62 L284.42 390.6 L282.32 391.53 L280.22 392.51 L278.36 393.43 L276.49 394.73 L274.86 396.23 L273.46 397.64 L272.53 398.71 L271.95 399.54" fill="none" stroke="#ff1010" stroke-width="0.8" stroke-linejoin="round"/>
<circle cx="448.68" cy="349.75" r="2.05" fill="none" stroke="#ff1010" stroke-width="1.0"/>
<circle cx="443.04" cy="350.61" r="2.05" fill="none" stroke="#ff1010" stroke-width="1.0"/>
<circle cx="437.4" cy="351.51" r="2.05" fill="none" stroke="#ff1010" stroke-width="1.0"/>
<circle cx="431.76" cy="352.43" r="2.05" fill="none" stroke="#ff1010" stroke-width="1.0"/>
<circle cx="426.12" cy="353.39" r="2.05" fill="none" stroke="#ff1010" stroke-width="1.0"/>
<circle cx="420.47" cy="354.38" r="2.05" fill="none" stroke="#ff1010" stroke-width="1.0"/>
<circle cx="414.83" cy="355.41" r="2.05" fill="none" stroke="#ff1010" stroke-width="1.0"/>
<circle cx="409.19" cy="356.46" r="2.05" fill="none" stroke="#ff1010" stroke-width="1.0"/>
<circle cx="403.55" cy="357.55" r="2.05" fill="none" stroke="#ff1010" stroke-width="1.0"/>
<circle cx="397.91" cy="358.67" r="2.05" fill="none" stroke="#ff1010" stroke-width="1.0"/>
<circle cx="392.27" cy="359.83" r="2.05" fill="none" stroke="#ff1010" stroke-width="1.0"/>
<circle cx="386.63" cy="361.01" r="2.05" fill="none" stroke="#ff1010" stroke-width="1.0"/>
<circle cx="380.99" cy="362.24" r="2.05" fill="none" stroke="#ff1010" stroke-width="1.0"/>
<circle cx="375.35" cy="363.5" r="2.05" fill="none" stroke="#ff1010" stroke-width="1.0"/>
<circle cx="369.71" cy="364.79" r="2.05" fill="none" stroke="#ff1010" stroke-width="1.0"/>
<circle cx="364.06" cy="366.13" r="2.05" fill="none" stroke="#ff1010" stroke-width="1.0"/>
<circle cx="358.42" cy="367.5" r="2.05" fill="none" stroke="#ff1010" stroke-width="1.0"/>
<circle cx="352.78" cy="368.91" r="2.05" fill="none" stroke="#ff1010" stroke-width="1.0"/>
<circle cx="347.14" cy="370.37" r="2.05" fill="none" stroke="#ff1010" stroke-width="1.0"/>
<circle cx="341.5" cy="371.86" r="2.05" fill="none" stroke="#ff1010" stroke-width="1.0"/>
<circle cx="336.37" cy="373.26" r="2.05" fill="none" stroke="#ff1010" stroke-width="1.0"/>
<circle cx="331.48" cy="374.64" r="2.05" fill="none" stroke="#ff1010" stroke-width="1.0"/>
<circle cx="326.82" cy="375.98" r="2.05" fill="none" stroke="#ff1010" stroke-width="1.0"/>
<circle cx="322.39" cy="377.29" r="2.05" fill="none" stroke="#ff1010" stroke-width="1.0"/>
<circle cx="317.97" cy="378.64" r="2.05" fill="none" stroke="#ff1010" stroke-width="1.0"/>
<circle cx="313.77" cy="379.96" r="2.05" fill="none" stroke="#ff1010" stroke-width="1.0"/>
<circle cx="309.58" cy="381.31" r="2.05" fill="none" stroke="#ff1010" stroke-width="1.0"/>
<circle cx="305.62" cy="382.63" r="2.05" fill="none" stroke="#ff1010" stroke-width="1.0"/>
<circle cx="301.89" cy="383.9" r="2.05" fill="none" stroke="#ff1010" stroke-width="1.0"/>
<circle cx="298.4" cy="385.14" r="2.05" fill="none" stroke="#ff1010" stroke-width="1.0"/>
<circle cx="295.13" cy="386.33" r="2.05" fill="none" stroke="#ff1010" stroke-width="1.0"/>
<circle cx="292.1" cy="387.48" r="2.05" fill="none" stroke="#ff1010" stroke-width="1.0"/>
<circle cx="289.31" cy="388.57" r="2.05" fill="none" stroke="#ff1010" stroke-width="1.0"/>
<circle cx="286.75" cy="389.62" r="2.05" fill="none" stroke="#ff1010" stroke-width="1.0"/>
<circle cx="284.42" cy="390.6" r="2.05" fill="none" stroke="#ff1010" stroke-width="1.0"/>
<circle cx="282.32" cy="391.53" r="2.05" fill="none" stroke="#ff1010" stroke-width="1.0"/>
<circle cx="280.22" cy="392.51" r="2.05" fill="none" stroke="#ff1010" stroke-width="1.0"/>
<circle cx="278.36" cy="393.43" r="2.05" fill="none" stroke="#ff1010" stroke-width="1.0"/>
<circle cx="276.49" cy="394.73" r="2.05" fill="none" stroke="#ff1010" stroke-width="1.0"/>
<circle cx="274.86" cy="396.23" r="2.05" fill="none" stroke="#ff1010" stroke-width="1.0"/>
<circle cx="273.46" cy="397.64" r="2.05" fill="none" stroke="#ff1010" stroke-width="1.0"/>
<circle cx="272.53" cy="398.71" r="2.05" fill="none" stroke="#ff1010" stroke-width="1.0"/>
<circle cx="271.95" cy="399.54" r="2.05" fill="none" stroke="#ff1010" stroke-width="1.0"/>
<path d="M448.68 349.75 L443.04 350.61 L437.4 351.51 L431.76 352.43 L426.12 353.39 L420.47 354.38 L414.83 355.41 L409.19 356.46 L403.55 357.55 L397.91 358.67 L392.27 359.83 L386.63 361.01 L380.99 362.24 L375.35 363.5 L369.71 364.79 L364.06 366.13 L358.42 367.5 L352.78 368.91 L347.14 370.37 L341.5 371.86 L336.37 373.26 L331.48 374.64 L326.82 375.98 L322.39 377.29 L317.97 378.64 L313.77 379.96 L309.58 381.31 L305.62 382.63 L301.89 383.9 L298.4 385.14 L295.13 386.33 L292.1 387.48 L289.31 388.57 L286.75 389.62 L284.42 390.6 L282.32 391.53 L280.22 392.51 L278.36 393.43 L276.49 394.73 L274.86 396.23 L273.46 397.64 L272.53 398.71 L271.95 399.54" fill="none" stroke="#ff1010" stroke-width="0.8" stroke-linejoin="round"/>
<path d="M448.68 327.12 L443.04 328.25 L437.4 329.4 L431.76 330.58 L426.12 331.79 L420.47 333.02 L414.83 334.29 L409.19 335.58 L403.55 336.9 L397.91 338.25 L392.27 339.63 L386.63 341.05 L380.99 342.5 L375.35 343.99 L369.71 345.52 L364.06 347.09 L358.42 348.71 L352.78 350.38 L347.14 352.1 L341.5 353.88 L336.37 355.56 L331.48 357.23 L326.82 358.87 L322.39 360.5 L317.97 362.19 L313.77 363.87 L309.58 365.62 L305.62 367.37 L301.89 369.11 L298.4 370.84 L295.13 372.56 L292.1 374.27 L289.31 375.96 L286.75 377.63 L284.42 379.28 L282.32 380.9 L280.22 382.69 L278.36 384.48 L276.49 386.93 L274.86 389.77 L273.46 392.71 L272.53 395.26 L271.95 397.54" fill="none" stroke="#e8b84b" stroke-width="0.8" stroke-linejoin="round"/>
<circle cx="448.68" cy="327.12" r="2.05" fill="none" stroke="#e8b84b" stroke-width="1.0"/>
<circle cx="443.04" cy="328.25" r="2.05" fill="none" stroke="#e8b84b" stroke-width="1.0"/>
<circle cx="437.4" cy="329.4" r="2.05" fill="none" stroke="#e8b84b" stroke-width="1.0"/>
<circle cx="431.76" cy="330.58" r="2.05" fill="none" stroke="#e8b84b" stroke-width="1.0"/>
<circle cx="426.12" cy="331.79" r="2.05" fill="none" stroke="#e8b84b" stroke-width="1.0"/>
<circle cx="420.47" cy="333.02" r="2.05" fill="none" stroke="#e8b84b" stroke-width="1.0"/>
<circle cx="414.83" cy="334.29" r="2.05" fill="none" stroke="#e8b84b" stroke-width="1.0"/>
<circle cx="409.19" cy="335.58" r="2.05" fill="none" stroke="#e8b84b" stroke-width="1.0"/>
<circle cx="403.55" cy="336.9" r="2.05" fill="none" stroke="#e8b84b" stroke-width="1.0"/>
<circle cx="397.91" cy="338.25" r="2.05" fill="none" stroke="#e8b84b" stroke-width="1.0"/>
<circle cx="392.27" cy="339.63" r="2.05" fill="none" stroke="#e8b84b" stroke-width="1.0"/>
<circle cx="386.63" cy="341.05" r="2.05" fill="none" stroke="#e8b84b" stroke-width="1.0"/>
<circle cx="380.99" cy="342.5" r="2.05" fill="none" stroke="#e8b84b" stroke-width="1.0"/>
<circle cx="375.35" cy="343.99" r="2.05" fill="none" stroke="#e8b84b" stroke-width="1.0"/>
<circle cx="369.71" cy="345.52" r="2.05" fill="none" stroke="#e8b84b" stroke-width="1.0"/>
<circle cx="364.06" cy="347.09" r="2.05" fill="none" stroke="#e8b84b" stroke-width="1.0"/>
<circle cx="358.42" cy="348.71" r="2.05" fill="none" stroke="#e8b84b" stroke-width="1.0"/>
<circle cx="352.78" cy="350.38" r="2.05" fill="none" stroke="#e8b84b" stroke-width="1.0"/>
<circle cx="347.14" cy="352.1" r="2.05" fill="none" stroke="#e8b84b" stroke-width="1.0"/>
<circle cx="341.5" cy="353.88" r="2.05" fill="none" stroke="#e8b84b" stroke-width="1.0"/>
<circle cx="336.37" cy="355.56" r="2.05" fill="none" stroke="#e8b84b" stroke-width="1.0"/>
<circle cx="331.48" cy="357.23" r="2.05" fill="none" stroke="#e8b84b" stroke-width="1.0"/>
<circle cx="326.82" cy="358.87" r="2.05" fill="none" stroke="#e8b84b" stroke-width="1.0"/>
<circle cx="322.39" cy="360.5" r="2.05" fill="none" stroke="#e8b84b" stroke-width="1.0"/>
<circle cx="317.97" cy="362.19" r="2.05" fill="none" stroke="#e8b84b" stroke-width="1.0"/>
<circle cx="313.77" cy="363.87" r="2.05" fill="none" stroke="#e8b84b" stroke-width="1.0"/>
<circle cx="309.58" cy="365.62" r="2.05" fill="none" stroke="#e8b84b" stroke-width="1.0"/>
<circle cx="305.62" cy="367.37" r="2.05" fill="none" stroke="#e8b84b" stroke-width="1.0"/>
<circle cx="301.89" cy="369.11" r="2.05" fill="none" stroke="#e8b84b" stroke-width="1.0"/>
<circle cx="298.4" cy="370.84" r="2.05" fill="none" stroke="#e8b84b" stroke-width="1.0"/>
<circle cx="295.13" cy="372.56" r="2.05" fill="none" stroke="#e8b84b" stroke-width="1.0"/>
<circle cx="292.1" cy="374.27" r="2.05" fill="none" stroke="#e8b84b" stroke-width="1.0"/>
<circle cx="289.31" cy="375.96" r="2.05" fill="none" stroke="#e8b84b" stroke-width="1.0"/>
<circle cx="286.75" cy="377.63" r="2.05" fill="none" stroke="#e8b84b" stroke-width="1.0"/>
<circle cx="284.42" cy="379.28" r="2.05" fill="none" stroke="#e8b84b" stroke-width="1.0"/>
<circle cx="282.32" cy="380.9" r="2.05" fill="none" stroke="#e8b84b" stroke-width="1.0"/>
<circle cx="280.22" cy="382.69" r="2.05" fill="none" stroke="#e8b84b" stroke-width="1.0"/>
<circle cx="278.36" cy="384.48" r="2.05" fill="none" stroke="#e8b84b" stroke-width="1.0"/>
<circle cx="276.49" cy="386.93" r="2.05" fill="none" stroke="#e8b84b" stroke-width="1.0"/>
<circle cx="274.86" cy="389.77" r="2.05" fill="none" stroke="#e8b84b" stroke-width="1.0"/>
<circle cx="273.46" cy="392.71" r="2.05" fill="none" stroke="#e8b84b" stroke-width="1.0"/>
<circle cx="272.53" cy="395.26" r="2.05" fill="none" stroke="#e8b84b" stroke-width="1.0"/>
<circle cx="271.95" cy="397.54" r="2.05" fill="none" stroke="#e8b84b" stroke-width="1.0"/>
<path d="M448.68 327.12 L443.04 328.25 L437.4 329.4 L431.76 330.58 L426.12 331.79 L420.47 333.02 L414.83 334.29 L409.19 335.58 L403.55 336.9 L397.91 338.25 L392.27 339.63 L386.63 341.05 L380.99 342.5 L375.35 343.99 L369.71 345.52 L364.06 347.09 L358.42 348.71 L352.78 350.38 L347.14 352.1 L341.5 353.88 L336.37 355.56 L331.48 357.23 L326.82 358.87 L322.39 360.5 L317.97 362.19 L313.77 363.87 L309.58 365.62 L305.62 367.37 L301.89 369.11 L298.4 370.84 L295.13 372.56 L292.1 374.27 L289.31 375.96 L286.75 377.63 L284.42 379.28 L282.32 380.9 L280.22 382.69 L278.36 384.48 L276.49 386.93 L274.86 389.77 L273.46 392.71 L272.53 395.26 L271.95 397.54" fill="none" stroke="#e8b84b" stroke-width="0.8" stroke-linejoin="round"/>
<path d="M448.68 299.67 L443.04 301.55 L437.4 303.45 L431.76 305.35 L426.12 307.26 L420.47 309.19 L414.83 311.12 L409.19 313.07 L403.55 315.04 L397.91 317.01 L392.27 319.01 L386.63 321.02 L380.99 323.05 L375.35 325.1 L369.71 327.18 L364.06 329.29 L358.42 331.44 L352.78 333.62 L347.14 335.85 L341.5 338.13 L336.37 340.26 L331.48 342.34 L326.82 344.4 L322.39 346.41 L317.97 348.5 L313.77 350.56 L309.58 352.72 L305.62 354.87 L301.89 357.01 L298.4 359.14 L295.13 361.27 L292.1 363.4 L289.31 365.52 L286.75 367.64 L284.42 369.75 L282.32 371.85 L280.22 374.19 L278.36 376.58 L276.49 379.88 L274.86 383.76 L273.46 387.87 L272.53 391.51 L271.95 394.84" fill="none" stroke="#66ccff" stroke-width="0.8" stroke-linejoin="round"/>
<circle cx="448.68" cy="299.67" r="2.05" fill="none" stroke="#66ccff" stroke-width="1.0"/>
<circle cx="443.04" cy="301.55" r="2.05" fill="none" stroke="#66ccff" stroke-width="1.0"/>
<circle cx="437.4" cy="303.45" r="2.05" fill="none" stroke="#66ccff" stroke-width="1.0"/>
<circle cx="431.76" cy="305.35" r="2.05" fill="none" stroke="#66ccff" stroke-width="1.0"/>
<circle cx="426.12" cy="307.26" r="2.05" fill="none" stroke="#66ccff" stroke-width="1.0"/>
<circle cx="420.47" cy="309.19" r="2.05" fill="none" stroke="#66ccff" stroke-width="1.0"/>
<circle cx="414.83" cy="311.12" r="2.05" fill="none" stroke="#66ccff" stroke-width="1.0"/>
<circle cx="409.19" cy="313.07" r="2.05" fill="none" stroke="#66ccff" stroke-width="1.0"/>
<circle cx="403.55" cy="315.04" r="2.05" fill="none" stroke="#66ccff" stroke-width="1.0"/>
<circle cx="397.91" cy="317.01" r="2.05" fill="none" stroke="#66ccff" stroke-width="1.0"/>
<circle cx="392.27" cy="319.01" r="2.05" fill="none" stroke="#66ccff" stroke-width="1.0"/>
<circle cx="386.63" cy="321.02" r="2.05" fill="none" stroke="#66ccff" stroke-width="1.0"/>
<circle cx="380.99" cy="323.05" r="2.05" fill="none" stroke="#66ccff" stroke-width="1.0"/>
<circle cx="375.35" cy="325.1" r="2.05" fill="none" stroke="#66ccff" stroke-width="1.0"/>
<circle cx="369.71" cy="327.18" r="2.05" fill="none" stroke="#66ccff" stroke-width="1.0"/>
<circle cx="364.06" cy="329.29" r="2.05" fill="none" stroke="#66ccff" stroke-width="1.0"/>
<circle cx="358.42" cy="331.44" r="2.05" fill="none" stroke="#66ccff" stroke-width="1.0"/>
<circle cx="352.78" cy="333.62" r="2.05" fill="none" stroke="#66ccff" stroke-width="1.0"/>
<circle cx="347.14" cy="335.85" r="2.05" fill="none" stroke="#66ccff" stroke-width="1.0"/>
<circle cx="341.5" cy="338.13" r="2.05" fill="none" stroke="#66ccff" stroke-width="1.0"/>
<circle cx="336.37" cy="340.26" r="2.05" fill="none" stroke="#66ccff" stroke-width="1.0"/>
<circle cx="331.48" cy="342.34" r="2.05" fill="none" stroke="#66ccff" stroke-width="1.0"/>
<circle cx="326.82" cy="344.4" r="2.05" fill="none" stroke="#66ccff" stroke-width="1.0"/>
<circle cx="322.39" cy="346.41" r="2.05" fill="none" stroke="#66ccff" stroke-width="1.0"/>
<circle cx="317.97" cy="348.5" r="2.05" fill="none" stroke="#66ccff" stroke-width="1.0"/>
<circle cx="313.77" cy="350.56" r="2.05" fill="none" stroke="#66ccff" stroke-width="1.0"/>
<circle cx="309.58" cy="352.72" r="2.05" fill="none" stroke="#66ccff" stroke-width="1.0"/>
<circle cx="305.62" cy="354.87" r="2.05" fill="none" stroke="#66ccff" stroke-width="1.0"/>
<circle cx="301.89" cy="357.01" r="2.05" fill="none" stroke="#66ccff" stroke-width="1.0"/>
<circle cx="298.4" cy="359.14" r="2.05" fill="none" stroke="#66ccff" stroke-width="1.0"/>
<circle cx="295.13" cy="361.27" r="2.05" fill="none" stroke="#66ccff" stroke-width="1.0"/>
<circle cx="292.1" cy="363.4" r="2.05" fill="none" stroke="#66ccff" stroke-width="1.0"/>
<circle cx="289.31" cy="365.52" r="2.05" fill="none" stroke="#66ccff" stroke-width="1.0"/>
<circle cx="286.75" cy="367.64" r="2.05" fill="none" stroke="#66ccff" stroke-width="1.0"/>
<circle cx="284.42" cy="369.75" r="2.05" fill="none" stroke="#66ccff" stroke-width="1.0"/>
<circle cx="282.32" cy="371.85" r="2.05" fill="none" stroke="#66ccff" stroke-width="1.0"/>
<circle cx="280.22" cy="374.19" r="2.05" fill="none" stroke="#66ccff" stroke-width="1.0"/>
<circle cx="278.36" cy="376.58" r="2.05" fill="none" stroke="#66ccff" stroke-width="1.0"/>
<circle cx="276.49" cy="379.88" r="2.05" fill="none" stroke="#66ccff" stroke-width="1.0"/>
<circle cx="274.86" cy="383.76" r="2.05" fill="none" stroke="#66ccff" stroke-width="1.0"/>
<circle cx="273.46" cy="387.87" r="2.05" fill="none" stroke="#66ccff" stroke-width="1.0"/>
<circle cx="272.53" cy="391.51" r="2.05" fill="none" stroke="#66ccff" stroke-width="1.0"/>
<circle cx="271.95" cy="394.84" r="2.05" fill="none" stroke="#66ccff" stroke-width="1.0"/>
<path d="M448.68 299.67 L443.04 301.55 L437.4 303.45 L431.76 305.35 L426.12 307.26 L420.47 309.19 L414.83 311.12 L409.19 313.07 L403.55 315.04 L397.91 317.01 L392.27 319.01 L386.63 321.02 L380.99 323.05 L375.35 325.1 L369.71 327.18 L364.06 329.29 L358.42 331.44 L352.78 333.62 L347.14 335.85 L341.5 338.13 L336.37 340.26 L331.48 342.34 L326.82 344.4 L322.39 346.41 L317.97 348.5 L313.77 350.56 L309.58 352.72 L305.62 354.87 L301.89 357.01 L298.4 359.14 L295.13 361.27 L292.1 363.4 L289.31 365.52 L286.75 367.64 L284.42 369.75 L282.32 371.85 L280.22 374.19 L278.36 376.58 L276.49 379.88 L274.86 383.76 L273.46 387.87 L272.53 391.51 L271.95 394.84" fill="none" stroke="#66ccff" stroke-width="0.8" stroke-linejoin="round"/>
<path d="M448.68 282.09 L443.04 282.95 L437.4 283.88 L431.76 284.89 L426.12 285.97 L420.47 287.14 L414.83 288.38 L409.19 289.71 L403.55 291.12 L397.91 292.61 L392.27 294.19 L386.63 295.86 L380.99 297.62 L375.35 299.48 L369.71 301.43 L364.06 303.48 L358.42 305.63 L352.78 307.88 L347.14 310.24 L341.5 312.71 L336.37 315.06 L331.48 317.39 L326.82 319.7 L322.39 321.97 L317.97 324.35 L313.77 326.71 L309.58 329.21 L305.62 331.73 L301.89 334.28 L298.4 336.86 L295.13 339.48 L292.1 342.15 L289.31 344.87 L286.75 347.64 L284.42 350.46 L282.32 353.31 L280.22 356.58 L278.36 359.98 L276.49 364.06 L274.86 368.55 L273.46 373.72 L272.53 378.67 L271.95 383.56" fill="none" stroke="#8078ff" stroke-width="0.8" stroke-linejoin="round"/>
<circle cx="448.68" cy="282.09" r="2.05" fill="none" stroke="#8078ff" stroke-width="1.0"/>
<circle cx="443.04" cy="282.95" r="2.05" fill="none" stroke="#8078ff" stroke-width="1.0"/>
<circle cx="437.4" cy="283.88" r="2.05" fill="none" stroke="#8078ff" stroke-width="1.0"/>
<circle cx="431.76" cy="284.89" r="2.05" fill="none" stroke="#8078ff" stroke-width="1.0"/>
<circle cx="426.12" cy="285.97" r="2.05" fill="none" stroke="#8078ff" stroke-width="1.0"/>
<circle cx="420.47" cy="287.14" r="2.05" fill="none" stroke="#8078ff" stroke-width="1.0"/>
<circle cx="414.83" cy="288.38" r="2.05" fill="none" stroke="#8078ff" stroke-width="1.0"/>
<circle cx="409.19" cy="289.71" r="2.05" fill="none" stroke="#8078ff" stroke-width="1.0"/>
<circle cx="403.55" cy="291.12" r="2.05" fill="none" stroke="#8078ff" stroke-width="1.0"/>
<circle cx="397.91" cy="292.61" r="2.05" fill="none" stroke="#8078ff" stroke-width="1.0"/>
<circle cx="392.27" cy="294.19" r="2.05" fill="none" stroke="#8078ff" stroke-width="1.0"/>
<circle cx="386.63" cy="295.86" r="2.05" fill="none" stroke="#8078ff" stroke-width="1.0"/>
<circle cx="380.99" cy="297.62" r="2.05" fill="none" stroke="#8078ff" stroke-width="1.0"/>
<circle cx="375.35" cy="299.48" r="2.05" fill="none" stroke="#8078ff" stroke-width="1.0"/>
<circle cx="369.71" cy="301.43" r="2.05" fill="none" stroke="#8078ff" stroke-width="1.0"/>
<circle cx="364.06" cy="303.48" r="2.05" fill="none" stroke="#8078ff" stroke-width="1.0"/>
<circle cx="358.42" cy="305.63" r="2.05" fill="none" stroke="#8078ff" stroke-width="1.0"/>
<circle cx="352.78" cy="307.88" r="2.05" fill="none" stroke="#8078ff" stroke-width="1.0"/>
<circle cx="347.14" cy="310.24" r="2.05" fill="none" stroke="#8078ff" stroke-width="1.0"/>
<circle cx="341.5" cy="312.71" r="2.05" fill="none" stroke="#8078ff" stroke-width="1.0"/>
<circle cx="336.37" cy="315.06" r="2.05" fill="none" stroke="#8078ff" stroke-width="1.0"/>
<circle cx="331.48" cy="317.39" r="2.05" fill="none" stroke="#8078ff" stroke-width="1.0"/>
<circle cx="326.82" cy="319.7" r="2.05" fill="none" stroke="#8078ff" stroke-width="1.0"/>
<circle cx="322.39" cy="321.97" r="2.05" fill="none" stroke="#8078ff" stroke-width="1.0"/>
<circle cx="317.97" cy="324.35" r="2.05" fill="none" stroke="#8078ff" stroke-width="1.0"/>
<circle cx="313.77" cy="326.71" r="2.05" fill="none" stroke="#8078ff" stroke-width="1.0"/>
<circle cx="309.58" cy="329.21" r="2.05" fill="none" stroke="#8078ff" stroke-width="1.0"/>
<circle cx="305.62" cy="331.73" r="2.05" fill="none" stroke="#8078ff" stroke-width="1.0"/>
<circle cx="301.89" cy="334.28" r="2.05" fill="none" stroke="#8078ff" stroke-width="1.0"/>
<circle cx="298.4" cy="336.86" r="2.05" fill="none" stroke="#8078ff" stroke-width="1.0"/>
<circle cx="295.13" cy="339.48" r="2.05" fill="none" stroke="#8078ff" stroke-width="1.0"/>
<circle cx="292.1" cy="342.15" r="2.05" fill="none" stroke="#8078ff" stroke-width="1.0"/>
<circle cx="289.31" cy="344.87" r="2.05" fill="none" stroke="#8078ff" stroke-width="1.0"/>
<circle cx="286.75" cy="347.64" r="2.05" fill="none" stroke="#8078ff" stroke-width="1.0"/>
<circle cx="284.42" cy="350.46" r="2.05" fill="none" stroke="#8078ff" stroke-width="1.0"/>
<circle cx="282.32" cy="353.31" r="2.05" fill="none" stroke="#8078ff" stroke-width="1.0"/>
<circle cx="280.22" cy="356.58" r="2.05" fill="none" stroke="#8078ff" stroke-width="1.0"/>
<circle cx="278.36" cy="359.98" r="2.05" fill="none" stroke="#8078ff" stroke-width="1.0"/>
<circle cx="276.49" cy="364.06" r="2.05" fill="none" stroke="#8078ff" stroke-width="1.0"/>
<circle cx="274.86" cy="368.55" r="2.05" fill="none" stroke="#8078ff" stroke-width="1.0"/>
<circle cx="273.46" cy="373.72" r="2.05" fill="none" stroke="#8078ff" stroke-width="1.0"/>
<circle cx="272.53" cy="378.67" r="2.05" fill="none" stroke="#8078ff" stroke-width="1.0"/>
<circle cx="271.95" cy="383.56" r="2.05" fill="none" stroke="#8078ff" stroke-width="1.0"/>
<path d="M448.68 282.09 L443.04 282.95 L437.4 283.88 L431.76 284.89 L426.12 285.97 L420.47 287.14 L414.83 288.38 L409.19 289.71 L403.55 291.12 L397.91 292.61 L392.27 294.19 L386.63 295.86 L380.99 297.62 L375.35 299.48 L369.71 301.43 L364.06 303.48 L358.42 305.63 L352.78 307.88 L347.14 310.24 L341.5 312.71 L336.37 315.06 L331.48 317.39 L326.82 319.7 L322.39 321.97 L317.97 324.35 L313.77 326.71 L309.58 329.21 L305.62 331.73 L301.89 334.28 L298.4 336.86 L295.13 339.48 L292.1 342.15 L289.31 344.87 L286.75 347.64 L284.42 350.46 L282.32 353.31 L280.22 356.58 L278.36 359.98 L276.49 364.06 L274.86 368.55 L273.46 373.72 L272.53 378.67 L271.95 383.56" fill="none" stroke="#8078ff" stroke-width="0.8" stroke-linejoin="round"/>
<rect x="268" y="220.4" width="185" height="184.2" fill="none" stroke="#1a1a1a" stroke-width="1.2"/>
<line x1="263.5" y1="400.8" x2="268" y2="400.8" stroke="#1a1a1a" stroke-width="1.1"/>
<text transform="translate(261.5 403.7) scale(0.92 1)" text-anchor="end" font-size="8.0" fill="#1a1a1a" stroke="#1a1a1a" stroke-width="0.22">0</text>
<line x1="263.5" y1="361.48" x2="268" y2="361.48" stroke="#1a1a1a" stroke-width="1.1"/>
<text transform="translate(261.5 364.38) scale(0.92 1)" text-anchor="end" font-size="8.0" fill="#1a1a1a" stroke="#1a1a1a" stroke-width="0.22">20</text>
<line x1="263.5" y1="322.16" x2="268" y2="322.16" stroke="#1a1a1a" stroke-width="1.1"/>
<text transform="translate(261.5 325.06) scale(0.92 1)" text-anchor="end" font-size="8.0" fill="#1a1a1a" stroke="#1a1a1a" stroke-width="0.22">40</text>
<line x1="263.5" y1="282.84" x2="268" y2="282.84" stroke="#1a1a1a" stroke-width="1.1"/>
<text transform="translate(261.5 285.74) scale(0.92 1)" text-anchor="end" font-size="8.0" fill="#1a1a1a" stroke="#1a1a1a" stroke-width="0.22">60</text>
<line x1="263.5" y1="243.52" x2="268" y2="243.52" stroke="#1a1a1a" stroke-width="1.1"/>
<text transform="translate(261.5 246.42) scale(0.92 1)" text-anchor="end" font-size="8.0" fill="#1a1a1a" stroke="#1a1a1a" stroke-width="0.22">80</text>
<line x1="271.6" y1="404.6" x2="271.6" y2="409.1" stroke="#1a1a1a" stroke-width="1.1"/>
<text transform="translate(271.6 419.3) scale(0.92 1)" text-anchor="middle" font-size="8.0" fill="#1a1a1a" stroke="#1a1a1a" stroke-width="0.22">0</text>
<line x1="294.9" y1="404.6" x2="294.9" y2="409.1" stroke="#1a1a1a" stroke-width="1.1"/>
<text transform="translate(294.9 419.3) scale(0.92 1)" text-anchor="middle" font-size="8.0" fill="#1a1a1a" stroke="#1a1a1a" stroke-width="0.22">100</text>
<line x1="318.2" y1="404.6" x2="318.2" y2="409.1" stroke="#1a1a1a" stroke-width="1.1"/>
<text transform="translate(318.2 419.3) scale(0.92 1)" text-anchor="middle" font-size="8.0" fill="#1a1a1a" stroke="#1a1a1a" stroke-width="0.22">200</text>
<line x1="341.5" y1="404.6" x2="341.5" y2="409.1" stroke="#1a1a1a" stroke-width="1.1"/>
<text transform="translate(341.5 419.3) scale(0.92 1)" text-anchor="middle" font-size="8.0" fill="#1a1a1a" stroke="#1a1a1a" stroke-width="0.22">300</text>
<line x1="364.8" y1="404.6" x2="364.8" y2="409.1" stroke="#1a1a1a" stroke-width="1.1"/>
<text transform="translate(364.8 419.3) scale(0.92 1)" text-anchor="middle" font-size="8.0" fill="#1a1a1a" stroke="#1a1a1a" stroke-width="0.22">400</text>
<line x1="388.1" y1="404.6" x2="388.1" y2="409.1" stroke="#1a1a1a" stroke-width="1.1"/>
<text transform="translate(388.1 419.3) scale(0.92 1)" text-anchor="middle" font-size="8.0" fill="#1a1a1a" stroke="#1a1a1a" stroke-width="0.22">500</text>
<line x1="411.4" y1="404.6" x2="411.4" y2="409.1" stroke="#1a1a1a" stroke-width="1.1"/>
<text transform="translate(411.4 419.3) scale(0.92 1)" text-anchor="middle" font-size="8.0" fill="#1a1a1a" stroke="#1a1a1a" stroke-width="0.22">600</text>
<line x1="434.7" y1="404.6" x2="434.7" y2="409.1" stroke="#1a1a1a" stroke-width="1.1"/>
<text transform="translate(434.7 419.3) scale(0.92 1)" text-anchor="middle" font-size="8.0" fill="#1a1a1a" stroke="#1a1a1a" stroke-width="0.22">700</text>
<line x1="270.6" y1="229.4" x2="286.6" y2="229.4" stroke="#66ccff" stroke-width="1"/>
<circle cx="278.9" cy="229.4" r="2.5" fill="#66ccff"/>
<line x1="289.8" y1="229.4" x2="306.1" y2="229.4" stroke="#66ccff" stroke-width="1"/>
<circle cx="297.9" cy="229.4" r="2.2" fill="none" stroke="#66ccff" stroke-width="0.8"/>
<text x="310.3" y="232.4" font-size="8.7" fill="#66ccff">CO<tspan font-size="6.6" dy="2.2">2</tspan></text>
<line x1="270.6" y1="240.5" x2="286.6" y2="240.5" stroke="#8078ff" stroke-width="1"/>
<circle cx="278.9" cy="240.5" r="2.5" fill="#8078ff"/>
<line x1="289.8" y1="240.5" x2="306.1" y2="240.5" stroke="#8078ff" stroke-width="1"/>
<circle cx="297.9" cy="240.5" r="2.2" fill="none" stroke="#8078ff" stroke-width="0.8"/>
<text x="310.3" y="243.5" font-size="8.7" fill="#3333ff" stroke="#3333ff" stroke-width="0.22">C<tspan font-size="6.6" dy="2.2">2</tspan><tspan dy="-2.2">H</tspan><tspan font-size="6.6" dy="2.2">2</tspan></text>
<line x1="270.6" y1="251.7" x2="286.6" y2="251.7" stroke="#e8b84b" stroke-width="1"/>
<circle cx="278.9" cy="251.7" r="2.5" fill="#e8b84b"/>
<line x1="289.8" y1="251.7" x2="306.1" y2="251.7" stroke="#e8b84b" stroke-width="1"/>
<circle cx="297.9" cy="251.7" r="2.2" fill="none" stroke="#e8b84b" stroke-width="0.8"/>
<text x="310.3" y="254.7" font-size="8.7" fill="#e8b84b">C<tspan font-size="6.6" dy="2.2">2</tspan><tspan dy="-2.2">H</tspan><tspan font-size="6.6" dy="2.2">4</tspan></text>
<line x1="270.6" y1="263" x2="286.6" y2="263" stroke="#ff1010" stroke-width="1"/>
<circle cx="278.9" cy="263" r="2.5" fill="#ff1010"/>
<line x1="289.8" y1="263" x2="306.1" y2="263" stroke="#ff1010" stroke-width="1"/>
<circle cx="297.9" cy="263" r="2.2" fill="none" stroke="#ff1010" stroke-width="0.8"/>
<text x="310.3" y="266" font-size="8.7" fill="#ff1010" stroke="#ff1010" stroke-width="0.22">C<tspan font-size="6.6" dy="2.2">2</tspan><tspan dy="-2.2">H</tspan><tspan font-size="6.6" dy="2.2">6</tspan></text>
<text x="449.4" y="232.3" text-anchor="end" font-size="8.7" fill="#1a1a1a" stroke="#1a1a1a" stroke-width="0.22">298 K</text>
<text x="360.5" y="428.4" text-anchor="middle" font-size="8.7" fill="#1a1a1a" stroke="#1a1a1a" stroke-width="0.22"><tspan font-style="italic">P</tspan> (mmHg)</text>
<text transform="translate(245.3 312.5) rotate(-90)" text-anchor="middle" font-size="8.7" fill="#1a1a1a" stroke="#1a1a1a" stroke-width="0.22">Gas uptake (cm<tspan dx="0.8" font-size="6.4" dy="-5.2">3</tspan><tspan dy="5.2"> g</tspan><tspan dx="0.8" font-size="6.4" dy="-5.2">-1</tspan><tspan dy="5.2">)</tspan></text>
<text x="238.5" y="226" font-size="13.5" fill="#1a1a1a" stroke="#1a1a1a" stroke-width="0.22">d</text>
<path d="M502.71 75.49 L504.85 104.69 L506.49 117.39 L508.14 124.24 L509.78 129.32 L511.42 133.13 L513.07 135.92 L514.54 137.95 L516.19 139.73 L518.16 141.25 L534.59 148.11 L550.85 150.65 L567.12 151.66 L583.55 151.92 L599.98 152.17 L616.41 152.17 L632.84 152.04 L649.27 151.66 L665.7 151.03 L666.52 151 L667.34 150.97 L668.16 150.94 L668.99 150.91 L669.81 150.88 L670.63 150.84 L671.45 150.81 L672.27 150.78 L673.09 150.75 L673.91 150.72 L674.74 150.69 L675.56 150.66 L676.38 150.63 L677.2 150.6 L678.02 150.57 L678.84 150.54 L679.67 150.51 L680.49 150.48" fill="none" stroke="#000000" stroke-width="0.9" stroke-linejoin="round"/>
<circle cx="502.71" cy="75.49" r="2.5" fill="#000000"/>
<circle cx="504.85" cy="104.69" r="2.5" fill="#000000"/>
<circle cx="506.49" cy="117.39" r="2.5" fill="#000000"/>
<circle cx="508.14" cy="124.24" r="2.5" fill="#000000"/>
<circle cx="509.78" cy="129.32" r="2.5" fill="#000000"/>
<circle cx="511.42" cy="133.13" r="2.5" fill="#000000"/>
<circle cx="513.07" cy="135.92" r="2.5" fill="#000000"/>
<circle cx="514.54" cy="137.95" r="2.5" fill="#000000"/>
<circle cx="516.19" cy="139.73" r="2.5" fill="#000000"/>
<circle cx="518.16" cy="141.25" r="2.5" fill="#000000"/>
<circle cx="534.59" cy="148.11" r="2.5" fill="#000000"/>
<circle cx="550.85" cy="150.65" r="2.5" fill="#000000"/>
<circle cx="567.12" cy="151.66" r="2.5" fill="#000000"/>
<circle cx="583.55" cy="151.92" r="2.5" fill="#000000"/>
<circle cx="599.98" cy="152.17" r="2.5" fill="#000000"/>
<circle cx="616.41" cy="152.17" r="2.5" fill="#000000"/>
<circle cx="632.84" cy="152.04" r="2.5" fill="#000000"/>
<circle cx="649.27" cy="151.66" r="2.5" fill="#000000"/>
<circle cx="665.7" cy="151.03" r="2.5" fill="#000000"/>
<circle cx="666.52" cy="151" r="2.5" fill="#000000"/>
<circle cx="667.34" cy="150.97" r="2.5" fill="#000000"/>
<circle cx="668.16" cy="150.94" r="2.5" fill="#000000"/>
<circle cx="668.99" cy="150.91" r="2.5" fill="#000000"/>
<circle cx="669.81" cy="150.88" r="2.5" fill="#000000"/>
<circle cx="670.63" cy="150.84" r="2.5" fill="#000000"/>
<circle cx="671.45" cy="150.81" r="2.5" fill="#000000"/>
<circle cx="672.27" cy="150.78" r="2.5" fill="#000000"/>
<circle cx="673.09" cy="150.75" r="2.5" fill="#000000"/>
<circle cx="673.91" cy="150.72" r="2.5" fill="#000000"/>
<circle cx="674.74" cy="150.69" r="2.5" fill="#000000"/>
<circle cx="675.56" cy="150.66" r="2.5" fill="#000000"/>
<circle cx="676.38" cy="150.63" r="2.5" fill="#000000"/>
<circle cx="677.2" cy="150.6" r="2.5" fill="#000000"/>
<circle cx="678.02" cy="150.57" r="2.5" fill="#000000"/>
<circle cx="678.84" cy="150.54" r="2.5" fill="#000000"/>
<circle cx="679.67" cy="150.51" r="2.5" fill="#000000"/>
<circle cx="680.49" cy="150.48" r="2.5" fill="#000000"/>
<path d="M503.54 47.06 L505.34 79.3 L506.82 94.53 L508.46 103.93 L510.27 110.53 L511.92 115.61 L513.72 119.67 L515.37 122.97 L517.01 125.76 L518.32 127.8 L534.75 141 L550.85 147.09 L567.12 151.41 L583.55 153.95 L599.98 156.23 L616.41 157.76 L632.84 159.03 L649.27 160.3 L665.7 161.44 L666.52 161.46 L667.34 161.49 L668.16 161.51 L668.99 161.54 L669.81 161.56 L670.63 161.59 L671.45 161.62 L672.27 161.64 L673.09 161.67 L673.91 161.69 L674.74 161.72 L675.56 161.74 L676.38 161.77 L677.2 161.79 L678.02 161.82 L678.84 161.84 L679.67 161.87 L680.49 161.89" fill="none" stroke="#ff1010" stroke-width="0.9" stroke-linejoin="round"/>
<circle cx="503.54" cy="47.06" r="2.5" fill="#ff1010"/>
<circle cx="505.34" cy="79.3" r="2.5" fill="#ff1010"/>
<circle cx="506.82" cy="94.53" r="2.5" fill="#ff1010"/>
<circle cx="508.46" cy="103.93" r="2.5" fill="#ff1010"/>
<circle cx="510.27" cy="110.53" r="2.5" fill="#ff1010"/>
<circle cx="511.92" cy="115.61" r="2.5" fill="#ff1010"/>
<circle cx="513.72" cy="119.67" r="2.5" fill="#ff1010"/>
<circle cx="515.37" cy="122.97" r="2.5" fill="#ff1010"/>
<circle cx="517.01" cy="125.76" r="2.5" fill="#ff1010"/>
<circle cx="518.32" cy="127.8" r="2.5" fill="#ff1010"/>
<circle cx="534.75" cy="141" r="2.5" fill="#ff1010"/>
<circle cx="550.85" cy="147.09" r="2.5" fill="#ff1010"/>
<circle cx="567.12" cy="151.41" r="2.5" fill="#ff1010"/>
<circle cx="583.55" cy="153.95" r="2.5" fill="#ff1010"/>
<circle cx="599.98" cy="156.23" r="2.5" fill="#ff1010"/>
<circle cx="616.41" cy="157.76" r="2.5" fill="#ff1010"/>
<circle cx="632.84" cy="159.03" r="2.5" fill="#ff1010"/>
<circle cx="649.27" cy="160.3" r="2.5" fill="#ff1010"/>
<circle cx="665.7" cy="161.44" r="2.5" fill="#ff1010"/>
<circle cx="666.52" cy="161.46" r="2.5" fill="#ff1010"/>
<circle cx="667.34" cy="161.49" r="2.5" fill="#ff1010"/>
<circle cx="668.16" cy="161.51" r="2.5" fill="#ff1010"/>
<circle cx="668.99" cy="161.54" r="2.5" fill="#ff1010"/>
<circle cx="669.81" cy="161.56" r="2.5" fill="#ff1010"/>
<circle cx="670.63" cy="161.59" r="2.5" fill="#ff1010"/>
<circle cx="671.45" cy="161.62" r="2.5" fill="#ff1010"/>
<circle cx="672.27" cy="161.64" r="2.5" fill="#ff1010"/>
<circle cx="673.09" cy="161.67" r="2.5" fill="#ff1010"/>
<circle cx="673.91" cy="161.69" r="2.5" fill="#ff1010"/>
<circle cx="674.74" cy="161.72" r="2.5" fill="#ff1010"/>
<circle cx="675.56" cy="161.74" r="2.5" fill="#ff1010"/>
<circle cx="676.38" cy="161.77" r="2.5" fill="#ff1010"/>
<circle cx="677.2" cy="161.79" r="2.5" fill="#ff1010"/>
<circle cx="678.02" cy="161.82" r="2.5" fill="#ff1010"/>
<circle cx="678.84" cy="161.84" r="2.5" fill="#ff1010"/>
<circle cx="679.67" cy="161.87" r="2.5" fill="#ff1010"/>
<circle cx="680.49" cy="161.89" r="2.5" fill="#ff1010"/>
<rect x="498.6" y="2.5" width="184.9" height="184.8" fill="none" stroke="#1a1a1a" stroke-width="1.2"/>
<line x1="494.1" y1="183.4" x2="498.6" y2="183.4" stroke="#1a1a1a" stroke-width="1.1"/>
<text transform="translate(492.1 186.3) scale(0.92 1)" text-anchor="end" font-size="8.0" fill="#1a1a1a" stroke="#1a1a1a" stroke-width="0.22">0</text>
<line x1="494.1" y1="158.01" x2="498.6" y2="158.01" stroke="#1a1a1a" stroke-width="1.1"/>
<text transform="translate(492.1 160.91) scale(0.92 1)" text-anchor="end" font-size="8.0" fill="#1a1a1a" stroke="#1a1a1a" stroke-width="0.22">10</text>
<line x1="494.1" y1="132.62" x2="498.6" y2="132.62" stroke="#1a1a1a" stroke-width="1.1"/>
<text transform="translate(492.1 135.52) scale(0.92 1)" text-anchor="end" font-size="8.0" fill="#1a1a1a" stroke="#1a1a1a" stroke-width="0.22">20</text>
<line x1="494.1" y1="107.23" x2="498.6" y2="107.23" stroke="#1a1a1a" stroke-width="1.1"/>
<text transform="translate(492.1 110.13) scale(0.92 1)" text-anchor="end" font-size="8.0" fill="#1a1a1a" stroke="#1a1a1a" stroke-width="0.22">30</text>
<line x1="494.1" y1="81.84" x2="498.6" y2="81.84" stroke="#1a1a1a" stroke-width="1.1"/>
<text transform="translate(492.1 84.74) scale(0.92 1)" text-anchor="end" font-size="8.0" fill="#1a1a1a" stroke="#1a1a1a" stroke-width="0.22">40</text>
<line x1="494.1" y1="56.45" x2="498.6" y2="56.45" stroke="#1a1a1a" stroke-width="1.1"/>
<text transform="translate(492.1 59.35) scale(0.92 1)" text-anchor="end" font-size="8.0" fill="#1a1a1a" stroke="#1a1a1a" stroke-width="0.22">50</text>
<line x1="494.1" y1="31.06" x2="498.6" y2="31.06" stroke="#1a1a1a" stroke-width="1.1"/>
<text transform="translate(492.1 33.96) scale(0.92 1)" text-anchor="end" font-size="8.0" fill="#1a1a1a" stroke="#1a1a1a" stroke-width="0.22">60</text>
<line x1="494.1" y1="5.67" x2="498.6" y2="5.67" stroke="#1a1a1a" stroke-width="1.1"/>
<text transform="translate(492.1 8.57) scale(0.92 1)" text-anchor="end" font-size="8.0" fill="#1a1a1a" stroke="#1a1a1a" stroke-width="0.22">70</text>
<line x1="501.4" y1="187.3" x2="501.4" y2="191.8" stroke="#1a1a1a" stroke-width="1.1"/>
<text transform="translate(501.4 201.9) scale(0.92 1)" text-anchor="middle" font-size="8.0" fill="#1a1a1a" stroke="#1a1a1a" stroke-width="0.22">0</text>
<line x1="534.26" y1="187.3" x2="534.26" y2="191.8" stroke="#1a1a1a" stroke-width="1.1"/>
<text transform="translate(534.26 201.9) scale(0.92 1)" text-anchor="middle" font-size="8.0" fill="#1a1a1a" stroke="#1a1a1a" stroke-width="0.22">20</text>
<line x1="567.12" y1="187.3" x2="567.12" y2="191.8" stroke="#1a1a1a" stroke-width="1.1"/>
<text transform="translate(567.12 201.9) scale(0.92 1)" text-anchor="middle" font-size="8.0" fill="#1a1a1a" stroke="#1a1a1a" stroke-width="0.22">40</text>
<line x1="599.98" y1="187.3" x2="599.98" y2="191.8" stroke="#1a1a1a" stroke-width="1.1"/>
<text transform="translate(599.98 201.9) scale(0.92 1)" text-anchor="middle" font-size="8.0" fill="#1a1a1a" stroke="#1a1a1a" stroke-width="0.22">60</text>
<line x1="632.84" y1="187.3" x2="632.84" y2="191.8" stroke="#1a1a1a" stroke-width="1.1"/>
<text transform="translate(632.84 201.9) scale(0.92 1)" text-anchor="middle" font-size="8.0" fill="#1a1a1a" stroke="#1a1a1a" stroke-width="0.22">80</text>
<line x1="665.7" y1="187.3" x2="665.7" y2="191.8" stroke="#1a1a1a" stroke-width="1.1"/>
<text transform="translate(665.7 201.9) scale(0.92 1)" text-anchor="middle" font-size="8.0" fill="#1a1a1a" stroke="#1a1a1a" stroke-width="0.22">100</text>
<line x1="590" y1="14.9" x2="606.4" y2="14.9" stroke="#000000" stroke-width="1"/>
<circle cx="598.1" cy="14.9" r="2.5" fill="#000000"/>
<text x="610.4" y="18" font-size="8.7" fill="#1a1a1a" stroke="#1a1a1a" stroke-width="0.22">C<tspan font-size="6.6" dy="2.2">2</tspan><tspan dy="-2.2">H</tspan><tspan font-size="6.6" dy="2.2">2</tspan><tspan dy="-2.2">/C</tspan><tspan font-size="6.6" dy="2.2">2</tspan><tspan dy="-2.2">H</tspan><tspan font-size="6.6" dy="2.2">6</tspan><tspan dy="-2.2"> 273 K</tspan></text>
<line x1="590" y1="25.8" x2="606.4" y2="25.8" stroke="#ff1010" stroke-width="1"/>
<circle cx="598.1" cy="25.8" r="2.5" fill="#ff1010"/>
<text x="610.4" y="28.9" font-size="8.7" fill="#1a1a1a" stroke="#1a1a1a" stroke-width="0.22">C<tspan font-size="6.6" dy="2.2">2</tspan><tspan dy="-2.2">H</tspan><tspan font-size="6.6" dy="2.2">2</tspan><tspan dy="-2.2">/C</tspan><tspan font-size="6.6" dy="2.2">2</tspan><tspan dy="-2.2">H</tspan><tspan font-size="6.6" dy="2.2">6</tspan><tspan dy="-2.2"> 298 K</tspan></text>
<text x="590.55" y="211.6" text-anchor="middle" font-size="8.7" fill="#1a1a1a" stroke="#1a1a1a" stroke-width="0.22"><tspan font-style="italic">P</tspan> (kPa)</text>
<text transform="translate(477.4 94.9) rotate(-90)" text-anchor="middle" font-size="8.7" fill="#1a1a1a" stroke="#1a1a1a" stroke-width="0.22">IAST C<tspan font-size="6.6" dy="2.2">2</tspan><tspan dy="-2.2">H</tspan><tspan font-size="6.6" dy="2.2">2</tspan><tspan dy="-2.2">/C</tspan><tspan font-size="6.6" dy="2.2">2</tspan><tspan dy="-2.2">H</tspan><tspan font-size="6.6" dy="2.2">6</tspan><tspan dy="-2.2"> Selectivity</tspan></text>
<text x="470.4" y="9.4" font-size="13.5" fill="#1a1a1a" stroke="#1a1a1a" stroke-width="0.22">e</text>
<path d="M503.04 268.3 L504.69 297.68 L506.16 310.14 L507.81 318.16 L509.78 323.5 L511.26 327.06 L513.07 330.62 L514.54 333.29 L516.19 335.07 L517.83 336.85 L533.93 344.42 L550.69 346.64 L567.12 347.53 L583.55 347.09 L599.98 345.75 L616.41 344.86 L632.84 343.08 L649.27 341.75 L665.7 340.41 L666.52 340.32 L667.34 340.22 L668.16 340.12 L668.99 340.02 L669.81 339.92 L670.63 339.83 L671.45 339.73 L672.27 339.63 L673.09 339.53 L673.91 339.43 L674.74 339.34 L675.56 339.24 L676.38 339.14 L677.2 339.04 L678.02 338.94 L678.84 338.85 L679.67 338.75 L680.49 338.65" fill="none" stroke="#000000" stroke-width="0.9" stroke-linejoin="round"/>
<circle cx="503.04" cy="268.3" r="2.5" fill="#000000"/>
<circle cx="504.69" cy="297.68" r="2.5" fill="#000000"/>
<circle cx="506.16" cy="310.14" r="2.5" fill="#000000"/>
<circle cx="507.81" cy="318.16" r="2.5" fill="#000000"/>
<circle cx="509.78" cy="323.5" r="2.5" fill="#000000"/>
<circle cx="511.26" cy="327.06" r="2.5" fill="#000000"/>
<circle cx="513.07" cy="330.62" r="2.5" fill="#000000"/>
<circle cx="514.54" cy="333.29" r="2.5" fill="#000000"/>
<circle cx="516.19" cy="335.07" r="2.5" fill="#000000"/>
<circle cx="517.83" cy="336.85" r="2.5" fill="#000000"/>
<circle cx="533.93" cy="344.42" r="2.5" fill="#000000"/>
<circle cx="550.69" cy="346.64" r="2.5" fill="#000000"/>
<circle cx="567.12" cy="347.53" r="2.5" fill="#000000"/>
<circle cx="583.55" cy="347.09" r="2.5" fill="#000000"/>
<circle cx="599.98" cy="345.75" r="2.5" fill="#000000"/>
<circle cx="616.41" cy="344.86" r="2.5" fill="#000000"/>
<circle cx="632.84" cy="343.08" r="2.5" fill="#000000"/>
<circle cx="649.27" cy="341.75" r="2.5" fill="#000000"/>
<circle cx="665.7" cy="340.41" r="2.5" fill="#000000"/>
<circle cx="666.52" cy="340.32" r="2.5" fill="#000000"/>
<circle cx="667.34" cy="340.22" r="2.5" fill="#000000"/>
<circle cx="668.16" cy="340.12" r="2.5" fill="#000000"/>
<circle cx="668.99" cy="340.02" r="2.5" fill="#000000"/>
<circle cx="669.81" cy="339.92" r="2.5" fill="#000000"/>
<circle cx="670.63" cy="339.83" r="2.5" fill="#000000"/>
<circle cx="671.45" cy="339.73" r="2.5" fill="#000000"/>
<circle cx="672.27" cy="339.63" r="2.5" fill="#000000"/>
<circle cx="673.09" cy="339.53" r="2.5" fill="#000000"/>
<circle cx="673.91" cy="339.43" r="2.5" fill="#000000"/>
<circle cx="674.74" cy="339.34" r="2.5" fill="#000000"/>
<circle cx="675.56" cy="339.24" r="2.5" fill="#000000"/>
<circle cx="676.38" cy="339.14" r="2.5" fill="#000000"/>
<circle cx="677.2" cy="339.04" r="2.5" fill="#000000"/>
<circle cx="678.02" cy="338.94" r="2.5" fill="#000000"/>
<circle cx="678.84" cy="338.85" r="2.5" fill="#000000"/>
<circle cx="679.67" cy="338.75" r="2.5" fill="#000000"/>
<circle cx="680.49" cy="338.65" r="2.5" fill="#000000"/>
<path d="M502.88 323.5 L504.52 332.4 L506.16 336.85 L508.14 340.86 L509.78 343.08 L511.26 344.86 L512.9 346.2 L514.54 347.53 L516.19 348.43 L517.83 349.32 L533.93 354.66 L550.69 357.77 L567.12 360.44 L583.55 361.78 L599.98 363.11 L616.41 364 L632.84 364.89 L649.27 365.79 L665.7 366.5 L666.52 366.52 L667.34 366.55 L668.16 366.58 L668.99 366.6 L669.81 366.63 L670.63 366.66 L671.45 366.68 L672.27 366.71 L673.09 366.74 L673.91 366.76 L674.74 366.79 L675.56 366.82 L676.38 366.84 L677.2 366.87 L678.02 366.9 L678.84 366.92 L679.67 366.95 L680.49 366.98" fill="none" stroke="#ff1010" stroke-width="0.9" stroke-linejoin="round"/>
<circle cx="502.88" cy="323.5" r="2.5" fill="#ff1010"/>
<circle cx="504.52" cy="332.4" r="2.5" fill="#ff1010"/>
<circle cx="506.16" cy="336.85" r="2.5" fill="#ff1010"/>
<circle cx="508.14" cy="340.86" r="2.5" fill="#ff1010"/>
<circle cx="509.78" cy="343.08" r="2.5" fill="#ff1010"/>
<circle cx="511.26" cy="344.86" r="2.5" fill="#ff1010"/>
<circle cx="512.9" cy="346.2" r="2.5" fill="#ff1010"/>
<circle cx="514.54" cy="347.53" r="2.5" fill="#ff1010"/>
<circle cx="516.19" cy="348.43" r="2.5" fill="#ff1010"/>
<circle cx="517.83" cy="349.32" r="2.5" fill="#ff1010"/>
<circle cx="533.93" cy="354.66" r="2.5" fill="#ff1010"/>
<circle cx="550.69" cy="357.77" r="2.5" fill="#ff1010"/>
<circle cx="567.12" cy="360.44" r="2.5" fill="#ff1010"/>
<circle cx="583.55" cy="361.78" r="2.5" fill="#ff1010"/>
<circle cx="599.98" cy="363.11" r="2.5" fill="#ff1010"/>
<circle cx="616.41" cy="364" r="2.5" fill="#ff1010"/>
<circle cx="632.84" cy="364.89" r="2.5" fill="#ff1010"/>
<circle cx="649.27" cy="365.79" r="2.5" fill="#ff1010"/>
<circle cx="665.7" cy="366.5" r="2.5" fill="#ff1010"/>
<circle cx="666.52" cy="366.52" r="2.5" fill="#ff1010"/>
<circle cx="667.34" cy="366.55" r="2.5" fill="#ff1010"/>
<circle cx="668.16" cy="366.58" r="2.5" fill="#ff1010"/>
<circle cx="668.99" cy="366.6" r="2.5" fill="#ff1010"/>
<circle cx="669.81" cy="366.63" r="2.5" fill="#ff1010"/>
<circle cx="670.63" cy="366.66" r="2.5" fill="#ff1010"/>
<circle cx="671.45" cy="366.68" r="2.5" fill="#ff1010"/>
<circle cx="672.27" cy="366.71" r="2.5" fill="#ff1010"/>
<circle cx="673.09" cy="366.74" r="2.5" fill="#ff1010"/>
<circle cx="673.91" cy="366.76" r="2.5" fill="#ff1010"/>
<circle cx="674.74" cy="366.79" r="2.5" fill="#ff1010"/>
<circle cx="675.56" cy="366.82" r="2.5" fill="#ff1010"/>
<circle cx="676.38" cy="366.84" r="2.5" fill="#ff1010"/>
<circle cx="677.2" cy="366.87" r="2.5" fill="#ff1010"/>
<circle cx="678.02" cy="366.9" r="2.5" fill="#ff1010"/>
<circle cx="678.84" cy="366.92" r="2.5" fill="#ff1010"/>
<circle cx="679.67" cy="366.95" r="2.5" fill="#ff1010"/>
<circle cx="680.49" cy="366.98" r="2.5" fill="#ff1010"/>
<rect x="497.85" y="219.6" width="185.35" height="184.8" fill="none" stroke="#1a1a1a" stroke-width="1.2"/>
<line x1="493.35" y1="400.95" x2="497.85" y2="400.95" stroke="#1a1a1a" stroke-width="1.1"/>
<text transform="translate(491.35 403.85) scale(0.92 1)" text-anchor="end" font-size="8.0" fill="#1a1a1a" stroke="#1a1a1a" stroke-width="0.22">0</text>
<line x1="493.35" y1="356.44" x2="497.85" y2="356.44" stroke="#1a1a1a" stroke-width="1.1"/>
<text transform="translate(491.35 359.34) scale(0.92 1)" text-anchor="end" font-size="8.0" fill="#1a1a1a" stroke="#1a1a1a" stroke-width="0.22">5</text>
<line x1="493.35" y1="311.92" x2="497.85" y2="311.92" stroke="#1a1a1a" stroke-width="1.1"/>
<text transform="translate(491.35 314.82) scale(0.92 1)" text-anchor="end" font-size="8.0" fill="#1a1a1a" stroke="#1a1a1a" stroke-width="0.22">10</text>
<line x1="493.35" y1="267.41" x2="497.85" y2="267.41" stroke="#1a1a1a" stroke-width="1.1"/>
<text transform="translate(491.35 270.31) scale(0.92 1)" text-anchor="end" font-size="8.0" fill="#1a1a1a" stroke="#1a1a1a" stroke-width="0.22">15</text>
<line x1="493.35" y1="222.9" x2="497.85" y2="222.9" stroke="#1a1a1a" stroke-width="1.1"/>
<text transform="translate(491.35 225.8) scale(0.92 1)" text-anchor="end" font-size="8.0" fill="#1a1a1a" stroke="#1a1a1a" stroke-width="0.22">20</text>
<line x1="501.4" y1="404.4" x2="501.4" y2="408.9" stroke="#1a1a1a" stroke-width="1.1"/>
<text transform="translate(501.4 418.7) scale(0.92 1)" text-anchor="middle" font-size="8.0" fill="#1a1a1a" stroke="#1a1a1a" stroke-width="0.22">0</text>
<line x1="534.26" y1="404.4" x2="534.26" y2="408.9" stroke="#1a1a1a" stroke-width="1.1"/>
<text transform="translate(534.26 418.7) scale(0.92 1)" text-anchor="middle" font-size="8.0" fill="#1a1a1a" stroke="#1a1a1a" stroke-width="0.22">20</text>
<line x1="567.12" y1="404.4" x2="567.12" y2="408.9" stroke="#1a1a1a" stroke-width="1.1"/>
<text transform="translate(567.12 418.7) scale(0.92 1)" text-anchor="middle" font-size="8.0" fill="#1a1a1a" stroke="#1a1a1a" stroke-width="0.22">40</text>
<line x1="599.98" y1="404.4" x2="599.98" y2="408.9" stroke="#1a1a1a" stroke-width="1.1"/>
<text transform="translate(599.98 418.7) scale(0.92 1)" text-anchor="middle" font-size="8.0" fill="#1a1a1a" stroke="#1a1a1a" stroke-width="0.22">60</text>
<line x1="632.84" y1="404.4" x2="632.84" y2="408.9" stroke="#1a1a1a" stroke-width="1.1"/>
<text transform="translate(632.84 418.7) scale(0.92 1)" text-anchor="middle" font-size="8.0" fill="#1a1a1a" stroke="#1a1a1a" stroke-width="0.22">80</text>
<line x1="665.7" y1="404.4" x2="665.7" y2="408.9" stroke="#1a1a1a" stroke-width="1.1"/>
<text transform="translate(665.7 418.7) scale(0.92 1)" text-anchor="middle" font-size="8.0" fill="#1a1a1a" stroke="#1a1a1a" stroke-width="0.22">100</text>
<line x1="591" y1="231.8" x2="607.4" y2="231.8" stroke="#000000" stroke-width="1"/>
<circle cx="599.1" cy="231.8" r="2.5" fill="#000000"/>
<text x="611.4" y="234.9" font-size="8.7" fill="#1a1a1a" stroke="#1a1a1a" stroke-width="0.22">CO<tspan font-size="6.6" dy="2.2">2</tspan><tspan dy="-2.2">/C</tspan><tspan font-size="6.6" dy="2.2">2</tspan><tspan dy="-2.2">H</tspan><tspan font-size="6.6" dy="2.2">6</tspan><tspan dy="-2.2"> 273 K</tspan></text>
<line x1="591" y1="243.3" x2="607.4" y2="243.3" stroke="#ff1010" stroke-width="1"/>
<circle cx="599.1" cy="243.3" r="2.5" fill="#ff1010"/>
<text x="611.4" y="246.4" font-size="8.7" fill="#1a1a1a" stroke="#1a1a1a" stroke-width="0.22">CO<tspan font-size="6.6" dy="2.2">2</tspan><tspan dy="-2.2">/C</tspan><tspan font-size="6.6" dy="2.2">2</tspan><tspan dy="-2.2">H</tspan><tspan font-size="6.6" dy="2.2">6</tspan><tspan dy="-2.2"> 298 K</tspan></text>
<text x="590.03" y="428.4" text-anchor="middle" font-size="8.7" fill="#1a1a1a" stroke="#1a1a1a" stroke-width="0.22"><tspan font-style="italic">P</tspan> (kPa)</text>
<text transform="translate(477.4 312) rotate(-90)" text-anchor="middle" font-size="8.7" fill="#1a1a1a" stroke="#1a1a1a" stroke-width="0.22">IAST CO<tspan font-size="6.6" dy="2.2">2</tspan><tspan dy="-2.2">/C</tspan><tspan font-size="6.6" dy="2.2">2</tspan><tspan dy="-2.2">H</tspan><tspan font-size="6.6" dy="2.2">6</tspan><tspan dy="-2.2"> Selectivity</tspan></text>
<text x="469.7" y="226" font-size="13.5" fill="#1a1a1a" stroke="#1a1a1a" stroke-width="0.22">f</text>
</svg>
</body></html>
